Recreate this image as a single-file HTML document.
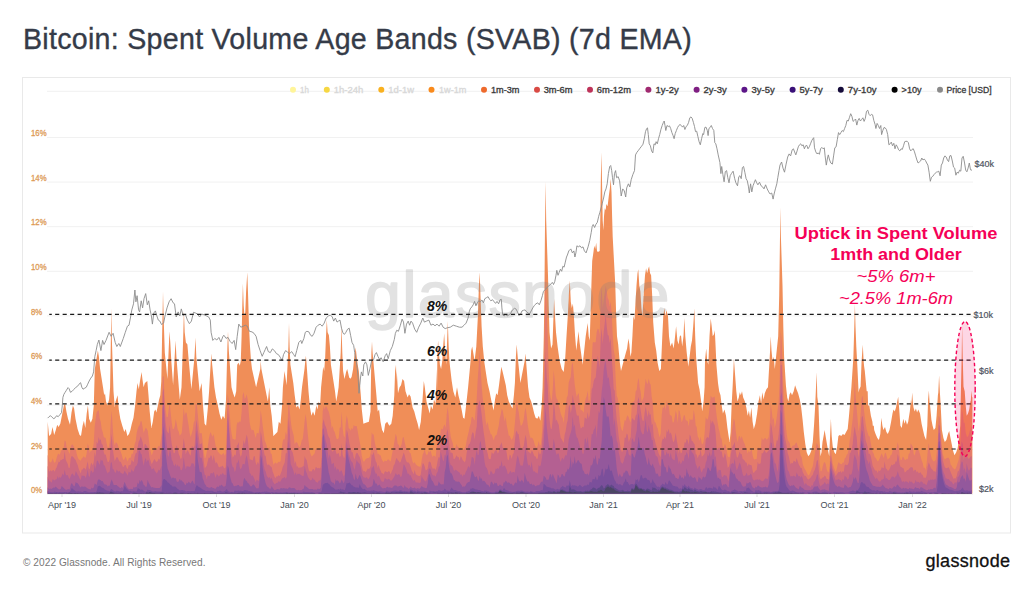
<!DOCTYPE html>
<html><head><meta charset="utf-8"><title>Bitcoin: Spent Volume Age Bands (SVAB) (7d EMA)</title>
<style>
html,body{margin:0;padding:0;background:#fff;}
body{width:1024px;height:590px;position:relative;overflow:hidden;font-family:"Liberation Sans",sans-serif;}
.title{position:absolute;left:23px;top:22.6px;font-size:28.6px;color:#353b48;white-space:nowrap;letter-spacing:0.28px;-webkit-text-stroke:0.35px #353b48;}
.foot{position:absolute;left:23px;top:557px;font-size:10.1px;color:#777;white-space:nowrap;letter-spacing:0.06px;}
.logo{position:absolute;left:925.5px;top:551px;font-size:18px;color:#111;white-space:nowrap;letter-spacing:0.3px;-webkit-text-stroke:0.3px #111;}
</style></head><body>
<div class="title">Bitcoin: Spent Volume Age Bands (SVAB) (7d EMA)</div>
<svg width="1024" height="590" viewBox="0 0 1024 590" style="position:absolute;left:0;top:0">
<rect x="22.5" y="77.5" width="988" height="455.5" fill="#fff" stroke="#e9e9e9" stroke-width="1"/>
<line x1="47" x2="973" y1="494.3" y2="494.3" stroke="#f1f1f1" stroke-width="1"/>
<line x1="47" x2="973" y1="449.7" y2="449.7" stroke="#f1f1f1" stroke-width="1"/>
<line x1="47" x2="973" y1="405.1" y2="405.1" stroke="#f1f1f1" stroke-width="1"/>
<line x1="47" x2="973" y1="360.5" y2="360.5" stroke="#f1f1f1" stroke-width="1"/>
<line x1="47" x2="973" y1="315.9" y2="315.9" stroke="#f1f1f1" stroke-width="1"/>
<line x1="47" x2="973" y1="271.3" y2="271.3" stroke="#f1f1f1" stroke-width="1"/>
<line x1="47" x2="973" y1="226.7" y2="226.7" stroke="#f1f1f1" stroke-width="1"/>
<line x1="47" x2="973" y1="182.1" y2="182.1" stroke="#f1f1f1" stroke-width="1"/>
<line x1="47" x2="973" y1="137.5" y2="137.5" stroke="#f1f1f1" stroke-width="1"/>
<line x1="47" x2="973" y1="91.3" y2="91.3" stroke="#f1f1f1" stroke-width="1"/>
<path d="M47.7,493.5 L47.7,421.8 L49.1,436.0 L51.1,434.0 L52.5,426.9 L54.2,435.0 L55.8,429.9 L57.2,424.8 L58.6,426.9 L60.3,423.8 L62.3,413.6 L63.9,405.5 L65.1,403.5 L66.4,411.6 L68.0,418.7 L70.0,424.8 L71.5,412.6 L72.9,405.5 L74.1,408.6 L75.5,418.7 L77.6,428.9 L79.6,435.0 L81.0,436.0 L82.6,425.8 L83.9,420.8 L85.3,427.9 L86.7,413.6 L87.9,405.5 L89.1,418.7 L90.8,422.8 L92.4,418.7 L93.8,405.5 L94.8,368.9 L96.5,358.7 L97.9,350.6 L98.9,356.7 L100.1,368.9 L103.0,387.2 L104.2,395.3 L105.0,393.3 L106.0,401.4 L107.4,405.5 L109.1,399.4 L110.1,387.2 L110.9,336.3 L111.3,308.3 L111.9,340.4 L113.5,391.3 L114.8,407.5 L115.6,401.4 L117.6,395.3 L118.8,409.6 L120.3,418.7 L122.3,425.8 L124.3,431.9 L125.7,428.9 L127.4,436.0 L129.0,434.0 L130.4,429.9 L131.8,423.8 L133.5,417.7 L135.1,405.5 L136.5,391.3 L137.5,383.1 L138.8,389.2 L140.0,381.1 L141.6,371.9 L142.4,379.1 L143.6,387.2 L144.9,383.1 L147.3,381.1 L148.5,395.3 L149.7,411.6 L151.4,427.9 L152.8,421.8 L154.2,411.6 L155.4,409.6 L156.4,412.6 L157.9,405.5 L159.1,399.4 L160.3,395.3 L161.3,381.1 L162.1,336.3 L163.0,291.6 L163.8,322.1 L164.8,352.6 L167.4,379.1 L168.8,346.5 L169.5,331.3 L170.3,342.4 L171.3,360.7 L173.1,385.2 L174.9,352.6 L175.6,340.4 L176.4,356.7 L179.8,399.4 L181.5,387.2 L183.1,340.4 L183.9,310.9 L184.7,332.3 L185.9,342.4 L187.4,344.5 L188.4,356.7 L191.4,389.2 L194.5,356.7 L195.5,337.4 L196.3,356.7 L199.6,391.3 L201.6,383.1 L203.0,405.5 L204.6,423.8 L206.1,425.8 L207.7,409.6 L209.1,391.3 L210.7,362.8 L211.3,353.6 L212.2,364.8 L214.4,387.2 L216.0,397.4 L217.9,405.5 L219.5,413.6 L221.3,419.7 L222.9,415.7 L224.6,418.7 L226.0,399.4 L227.4,346.5 L228.0,331.3 L228.8,350.6 L231.5,387.2 L233.1,393.3 L234.7,397.4 L236.2,391.3 L237.2,364.8 L238.6,362.8 L239.8,365.8 L240.8,360.7 L241.6,336.3 L242.3,305.8 L242.9,283.5 L243.7,305.8 L244.5,316.0 L245.3,311.9 L246.1,291.6 L247.3,272.3 L248.1,295.7 L249.0,326.2 L250.0,346.5 L251.0,360.7 L252.0,368.9 L256.1,387.2 L260.3,368.9 L260.7,360.7 L261.4,368.9 L266.6,395.3 L267.9,401.4 L269.3,387.2 L270.3,405.5 L271.7,415.7 L273.4,436.0 L275.4,434.0 L277.4,431.9 L278.8,421.8 L280.5,423.8 L282.1,405.5 L282.9,387.2 L284.5,370.9 L286.6,385.2 L288.4,346.5 L289.0,323.1 L289.6,346.5 L290.4,364.8 L293.3,383.1 L294.7,395.3 L296.3,407.5 L298.0,405.5 L299.6,409.6 L300.8,399.4 L302.0,387.2 L304.5,368.9 L305.3,360.7 L305.9,355.7 L306.5,362.8 L308.5,391.3 L310.0,407.5 L311.4,415.7 L313.0,411.6 L314.6,415.7 L316.3,405.5 L317.5,409.6 L318.7,401.4 L320.1,405.5 L321.1,387.2 L323.2,366.8 L324.2,370.9 L325.2,356.7 L326.0,336.3 L326.8,320.1 L327.6,332.3 L328.9,335.3 L329.9,346.5 L330.9,364.8 L335.0,391.3 L336.2,401.4 L337.4,395.3 L338.6,387.2 L340.7,352.6 L341.5,325.2 L342.3,352.6 L343.1,370.9 L344.5,379.1 L346.1,371.9 L347.2,368.9 L349.2,377.4 L350.4,378.7 L351.6,377.0 L353.1,368.9 L354.3,356.7 L355.7,347.5 L356.7,356.7 L357.7,364.8 L358.8,370.9 L360.8,395.3 L361.8,409.6 L363.4,423.8 L365.9,422.8 L368.9,421.8 L370.5,411.6 L371.4,352.6 L372.0,341.4 L372.6,352.6 L376.4,395.3 L377.7,411.6 L379.1,409.6 L380.5,421.8 L382.1,429.9 L383.8,433.0 L385.2,423.8 L387.2,421.8 L389.3,425.8 L391.3,423.8 L392.7,415.7 L394.3,395.3 L395.1,370.9 L396.0,364.8 L396.4,381.1 L396.8,370.9 L398.0,393.3 L399.6,387.2 L401.0,385.2 L402.5,379.1 L404.1,381.1 L405.5,391.3 L407.6,397.4 L409.0,394.3 L410.6,396.4 L412.6,407.5 L414.3,411.6 L415.9,417.7 L417.7,423.8 L419.1,429.9 L420.8,421.8 L422.4,401.4 L423.8,381.1 L424.8,387.2 L426.5,401.4 L428.1,407.5 L429.7,413.6 L430.9,405.5 L432.6,409.6 L434.0,399.4 L435.6,403.5 L436.6,368.9 L437.0,395.3 L437.4,352.6 L438.1,340.4 L438.9,352.6 L439.9,364.8 L441.1,368.9 L442.3,360.7 L443.3,344.5 L444.2,333.3 L445.0,348.5 L446.2,364.8 L447.0,344.5 L447.8,321.1 L448.6,344.5 L449.4,360.7 L450.3,368.9 L451.7,381.1 L453.3,391.3 L455.3,397.4 L457.0,387.2 L458.4,395.3 L460.0,401.4 L461.6,409.6 L463.1,417.7 L464.5,418.7 L466.1,405.5 L468.1,387.2 L470.6,360.7 L471.2,350.6 L472.2,346.5 L473.2,352.6 L474.6,360.7 L476.3,346.5 L477.9,316.0 L478.9,285.5 L479.7,272.3 L480.5,295.7 L481.6,326.2 L482.8,346.5 L484.4,362.8 L487.5,383.1 L489.5,391.3 L491.5,401.4 L493.6,410.6 L495.0,399.4 L496.2,393.3 L497.6,395.3 L499.0,385.2 L501.3,366.8 L502.7,371.9 L505.8,385.2 L507.2,395.3 L508.8,401.4 L510.8,405.5 L512.5,408.6 L513.9,395.3 L514.9,383.1 L515.9,356.7 L516.7,344.5 L517.7,356.7 L520.4,383.1 L524.7,360.7 L525.5,353.6 L526.5,366.8 L528.1,387.2 L529.5,397.4 L531.2,401.4 L532.8,407.5 L534.2,413.6 L535.6,417.7 L537.3,418.7 L538.9,415.7 L540.3,420.8 L541.7,405.5 L542.6,387.2 L543.8,336.3 L544.4,295.7 L545.0,226.5 L545.6,181.4 L546.2,220.4 L548.0,275.3 L548.7,305.8 L549.5,332.3 L551.1,348.5 L552.5,344.5 L553.5,316.0 L554.1,298.7 L555.0,316.0 L556.0,332.3 L557.6,346.5 L559.6,360.7 L561.7,368.9 L563.7,371.9 L565.3,356.7 L566.5,336.3 L567.8,316.0 L569.0,291.6 L569.8,280.4 L570.8,301.8 L571.8,307.9 L572.9,303.8 L573.9,316.0 L575.1,336.3 L576.3,350.6 L577.5,340.4 L578.5,331.3 L579.6,342.4 L581.0,352.6 L582.6,364.8 L584.0,352.6 L585.7,336.3 L586.9,328.2 L587.7,323.1 L588.7,336.3 L589.7,340.4 L590.5,316.0 L591.4,285.5 L592.2,261.1 L593.6,250.9 L594.2,245.8 L595.2,248.9 L596.2,242.8 L597.0,250.9 L597.9,252.1 L599.7,250.9 L600.3,216.3 L600.9,175.7 L601.5,152.3 L602.1,185.8 L602.7,220.4 L603.4,230.6 L604.0,216.3 L604.8,208.2 L605.6,210.2 L606.4,204.1 L607.6,206.2 L608.8,196.0 L609.9,187.9 L610.7,178.7 L611.5,191.9 L612.1,216.3 L612.7,236.7 L615.3,285.5 L616.2,316.0 L617.0,336.3 L618.2,344.5 L619.6,360.7 L621.0,370.9 L625.9,352.6 L627.1,348.5 L628.4,338.4 L629.4,344.5 L630.4,356.7 L631.4,352.6 L632.4,336.3 L633.4,316.0 L634.5,320.1 L635.3,305.8 L636.5,285.5 L637.5,273.3 L638.3,269.2 L639.3,285.5 L640.4,291.6 L641.4,307.9 L642.4,316.0 L643.6,295.7 L645.0,275.3 L646.1,268.2 L647.1,273.3 L648.1,269.2 L649.1,266.2 L650.1,273.3 L651.1,275.3 L652.2,295.7 L653.2,322.1 L654.8,342.4 L656.2,350.6 L657.6,362.8 L659.3,370.9 L660.9,368.9 L662.3,336.3 L663.3,316.0 L664.4,307.9 L665.4,316.0 L666.4,309.9 L667.4,314.0 L668.0,316.0 L669.0,336.3 L670.4,346.5 L672.1,342.4 L673.7,348.5 L675.1,336.3 L676.1,326.2 L677.4,340.4 L678.6,344.5 L679.8,336.3 L681.0,335.3 L682.2,346.5 L683.5,336.3 L684.3,318.0 L685.3,336.3 L686.7,352.6 L688.3,366.8 L689.6,356.7 L690.8,346.5 L692.0,340.4 L693.2,326.2 L694.4,308.3 L695.2,336.3 L696.1,356.7 L698.1,383.1 L699.5,389.2 L700.9,399.4 L702.2,411.6 L703.6,401.4 L704.6,387.2 L705.0,360.7 L706.2,348.5 L707.2,360.7 L708.3,364.8 L709.5,336.3 L710.7,318.4 L711.7,326.2 L712.7,336.3 L714.0,334.3 L714.8,330.2 L715.6,346.5 L716.4,364.8 L718.0,383.1 L719.2,391.3 L720.5,395.3 L721.7,405.5 L722.9,413.6 L724.5,409.6 L726.0,415.7 L727.4,427.9 L728.6,436.0 L729.6,442.1 L730.6,431.9 L731.6,405.5 L732.7,385.2 L733.9,358.7 L736.3,391.3 L737.5,401.4 L738.8,397.4 L739.8,392.3 L740.8,395.3 L742.0,391.3 L743.2,397.4 L744.9,401.4 L746.3,407.5 L747.7,415.7 L748.9,410.6 L750.1,417.7 L751.4,407.5 L752.6,421.8 L753.8,428.9 L755.4,423.8 L757.1,413.6 L758.5,401.4 L759.9,395.3 L761.1,403.5 L762.3,392.3 L763.6,399.4 L764.8,393.3 L766.4,389.2 L768.0,387.2 L770.1,350.6 L770.7,336.3 L771.5,350.6 L772.5,360.7 L773.7,356.7 L774.8,368.9 L778.2,336.3 L779.2,295.7 L780.0,236.7 L780.4,207.2 L780.9,236.7 L782.5,285.5 L783.3,326.2 L784.1,356.7 L785.9,385.2 L787.2,397.4 L788.4,401.4 L789.6,394.3 L790.8,392.3 L792.0,395.3 L793.7,391.3 L795.1,385.2 L796.5,389.2 L798.1,393.3 L799.8,399.4 L801.2,407.5 L802.6,419.7 L803.8,431.9 L805.3,444.1 L806.7,452.3 L808.3,456.3 L809.9,454.3 L811.4,450.2 L812.8,442.1 L814.0,425.8 L815.2,405.5 L816.0,387.2 L816.7,372.3 L817.3,396.7 L818.5,405.5 L819.5,436.0 L820.5,456.3 L821.5,452.3 L822.5,442.1 L823.6,436.0 L824.6,429.9 L825.6,436.0 L826.6,442.1 L828.0,450.2 L829.2,456.3 L830.1,436.0 L830.9,418.7 L831.7,436.0 L832.7,446.2 L834.3,452.3 L835.8,454.3 L837.2,446.2 L838.4,436.0 L839.8,435.0 L841.2,436.0 L842.9,434.0 L844.5,435.0 L846.1,431.9 L847.7,428.9 L849.0,415.7 L850.2,401.4 L851.4,387.2 L853.4,356.7 L854.3,326.2 L854.9,303.8 L855.5,326.2 L856.3,346.5 L857.5,368.9 L858.6,392.6 L859.3,389.2 L860.6,386.5 L861.6,360.7 L862.8,344.8 L863.6,360.7 L864.1,366.2 L864.8,370.9 L866.3,387.2 L866.7,391.3 L867.7,391.3 L868.1,405.5 L869.3,405.5 L870.9,415.7 L872.4,421.8 L872.8,425.8 L873.8,425.8 L874.2,429.9 L875.6,434.0 L877.3,438.0 L878.9,440.1 L880.3,434.0 L881.3,417.7 L882.4,425.8 L883.4,429.9 L885.0,426.9 L886.4,431.9 L887.8,434.0 L889.5,429.9 L891.1,421.8 L892.5,413.6 L893.5,409.6 L894.8,411.6 L896.0,407.5 L897.2,401.4 L898.2,396.7 L899.2,408.9 L900.4,425.8 L901.7,427.9 L903.3,418.7 L904.5,423.8 L905.7,419.7 L907.0,424.8 L908.2,421.8 L909.8,411.6 L911.0,399.4 L911.4,404.8 L912.2,392.6 L913.1,404.8 L913.5,407.5 L914.7,411.6 L915.9,408.6 L917.1,412.6 L918.3,409.6 L920.0,413.6 L921.6,423.8 L923.0,429.9 L924.4,436.0 L926.1,440.1 L927.3,425.8 L928.1,399.4 L928.9,390.6 L929.7,404.8 L930.1,405.5 L931.4,419.7 L932.6,425.8 L933.8,429.9 L935.4,427.9 L936.6,415.7 L937.9,395.3 L938.3,392.6 L939.1,375.3 L939.9,392.6 L940.7,405.5 L941.9,429.9 L943.4,438.0 L944.8,442.1 L946.4,440.1 L948.0,434.0 L949.2,430.9 L950.5,438.0 L951.7,444.1 L952.9,450.2 L954.5,455.3 L956.2,452.3 L957.6,448.2 L959.0,440.1 L960.2,425.8 L961.0,386.5 L961.7,356.0 L962.1,325.5 L962.7,356.0 L963.5,386.5 L964.7,391.3 L965.7,405.5 L966.7,415.7 L968.0,413.6 L969.2,409.6 L970.4,401.4 L970.8,400.7 L971.4,390.6 L972.0,396.7 L972.4,397.4 L972.4,493.5 Z" fill="#F08E58"/>
<path d="M47.7,493.5 L47.7,454.6 L48.7,459.4 L49.7,462.2 L50.7,462.4 L51.7,461.2 L52.7,458.3 L53.7,461.5 L54.7,462.9 L55.7,461.4 L56.7,457.5 L57.7,454.6 L58.7,453.5 L59.7,455.0 L60.7,451.8 L61.7,449.9 L62.7,449.4 L63.7,447.6 L64.7,440.3 L65.7,441.5 L66.7,447.5 L67.7,448.9 L68.7,451.9 L69.7,454.1 L70.7,446.7 L71.7,444.6 L72.7,444.6 L73.7,446.4 L74.7,449.1 L75.7,449.3 L76.7,453.7 L77.7,457.3 L78.7,459.2 L79.7,459.9 L80.7,460.8 L81.7,458.5 L82.7,457.7 L83.7,456.3 L84.7,457.4 L85.7,457.8 L86.7,453.3 L87.7,443.4 L88.7,446.4 L89.7,453.0 L90.7,451.1 L91.7,450.7 L92.7,449.3 L93.7,443.5 L94.7,426.2 L95.7,418.5 L96.7,412.1 L97.7,411.0 L98.7,410.1 L99.7,418.6 L100.7,421.8 L101.7,429.0 L102.7,431.9 L103.7,436.7 L104.7,437.7 L105.7,437.9 L106.7,443.7 L107.7,447.7 L108.7,447.4 L109.7,442.1 L110.7,422.1 L111.7,410.6 L112.7,427.3 L113.7,440.6 L114.7,445.5 L115.7,442.6 L116.7,442.7 L117.7,444.4 L118.7,447.7 L119.7,449.3 L120.7,451.7 L121.7,454.5 L122.7,458.2 L123.7,460.2 L124.7,458.6 L125.7,456.4 L126.7,459.5 L127.7,461.4 L128.7,458.4 L129.7,457.8 L130.7,457.8 L131.7,453.4 L132.7,454.0 L133.7,449.8 L134.7,444.1 L135.7,441.2 L136.7,432.7 L137.7,429.0 L138.7,426.2 L139.7,425.0 L140.7,421.1 L141.7,421.4 L142.7,428.1 L143.7,433.0 L144.7,430.1 L145.7,427.8 L146.7,428.8 L147.7,430.7 L148.7,438.3 L149.7,447.6 L150.7,451.7 L151.7,455.5 L152.7,452.8 L153.7,450.1 L154.7,446.7 L155.7,448.6 L156.7,449.8 L157.7,447.6 L158.7,445.7 L159.7,446.8 L160.7,440.2 L161.7,432.8 L162.7,377.3 L163.7,375.9 L164.7,400.3 L165.7,410.0 L166.7,417.1 L167.7,417.0 L168.7,409.8 L169.7,403.2 L170.7,412.8 L171.7,422.4 L172.7,428.9 L173.7,429.1 L174.7,426.3 L175.7,418.9 L176.7,423.8 L177.7,429.5 L178.7,431.6 L179.7,435.8 L180.7,434.5 L181.7,432.9 L182.7,421.8 L183.7,407.3 L184.7,415.8 L185.7,412.2 L186.7,413.0 L187.7,419.9 L188.7,426.0 L189.7,433.3 L190.7,436.9 L191.7,433.4 L192.7,430.0 L193.7,422.8 L194.7,420.5 L195.7,404.1 L196.7,404.1 L197.7,413.7 L198.7,423.7 L199.7,433.0 L200.7,433.3 L201.7,432.9 L202.7,441.7 L203.7,451.3 L204.7,458.0 L205.7,457.6 L206.7,451.9 L207.7,447.0 L208.7,439.6 L209.7,434.5 L210.7,432.1 L211.7,435.1 L212.7,436.8 L213.7,434.0 L214.7,440.4 L215.7,446.0 L216.7,447.6 L217.7,451.4 L218.7,452.5 L219.7,453.7 L220.7,454.4 L221.7,454.9 L222.7,453.8 L223.7,453.0 L224.7,455.7 L225.7,453.4 L226.7,430.6 L227.7,394.2 L228.7,400.3 L229.7,414.0 L230.7,427.3 L231.7,434.6 L232.7,439.2 L233.7,438.9 L234.7,439.8 L235.7,439.3 L236.7,425.1 L237.7,422.1 L238.7,422.8 L239.7,421.2 L240.7,421.8 L241.7,410.5 L242.7,395.1 L243.7,392.0 L244.7,399.0 L245.7,397.6 L246.7,394.3 L247.7,399.4 L248.7,411.6 L249.7,422.9 L250.7,427.8 L251.7,430.6 L252.7,429.7 L253.7,430.3 L254.7,434.6 L255.7,438.1 L256.7,433.2 L257.7,433.0 L258.7,433.6 L259.7,425.4 L260.7,410.1 L261.7,416.9 L262.7,425.7 L263.7,433.3 L264.7,440.5 L265.7,442.7 L266.7,446.0 L267.7,449.8 L268.7,448.0 L269.7,447.2 L270.7,453.5 L271.7,453.9 L272.7,461.0 L273.7,464.9 L274.7,463.0 L275.7,462.5 L276.7,463.7 L277.7,462.7 L278.7,461.7 L279.7,461.9 L280.7,460.9 L281.7,448.7 L282.7,441.3 L283.7,439.1 L284.7,439.4 L285.7,431.8 L286.7,435.2 L287.7,420.1 L288.7,398.7 L289.7,411.0 L290.7,420.8 L291.7,428.2 L292.7,431.7 L293.7,435.6 L294.7,444.2 L295.7,442.4 L296.7,442.0 L297.7,443.6 L298.7,446.2 L299.7,447.2 L300.7,444.9 L301.7,440.2 L302.7,439.2 L303.7,430.7 L304.7,420.2 L305.7,414.1 L306.7,422.0 L307.7,433.4 L308.7,442.3 L309.7,450.7 L310.7,454.6 L311.7,456.6 L312.7,455.4 L313.7,454.5 L314.7,453.3 L315.7,448.9 L316.7,449.3 L317.7,449.0 L318.7,448.1 L319.7,449.0 L320.7,448.9 L321.7,438.8 L322.7,411.3 L323.7,406.0 L324.7,409.6 L325.7,406.2 L326.7,406.7 L327.7,409.5 L328.7,411.4 L329.7,415.4 L330.7,420.4 L331.7,428.8 L332.7,425.8 L333.7,430.6 L334.7,432.1 L335.7,435.8 L336.7,438.9 L337.7,439.3 L338.7,438.0 L339.7,427.8 L340.7,427.3 L341.7,411.5 L342.7,428.6 L343.7,435.8 L344.7,437.5 L345.7,423.0 L346.7,415.5 L347.7,419.7 L348.7,427.9 L349.7,429.0 L350.7,430.7 L351.7,427.7 L352.7,429.5 L353.7,425.0 L354.7,426.2 L355.7,426.1 L356.7,426.1 L357.7,430.9 L358.7,436.7 L359.7,442.0 L360.7,447.3 L361.7,455.4 L362.7,459.7 L363.7,461.8 L364.7,461.1 L365.7,459.1 L366.7,458.4 L367.7,458.0 L368.7,458.1 L369.7,457.0 L370.7,452.0 L371.7,432.2 L372.7,434.6 L373.7,434.4 L374.7,441.8 L375.7,446.5 L376.7,448.2 L377.7,454.6 L378.7,453.6 L379.7,455.3 L380.7,455.6 L381.7,459.3 L382.7,461.1 L383.7,462.2 L384.7,460.5 L385.7,460.9 L386.7,461.0 L387.7,459.4 L388.7,459.6 L389.7,460.7 L390.7,461.4 L391.7,455.8 L392.7,450.7 L393.7,446.1 L394.7,439.2 L395.7,433.7 L396.7,436.7 L397.7,444.1 L398.7,444.8 L399.7,447.7 L400.7,446.6 L401.7,443.8 L402.7,437.8 L403.7,437.1 L404.7,442.2 L405.7,446.5 L406.7,449.6 L407.7,450.2 L408.7,450.0 L409.7,452.7 L410.7,453.3 L411.7,457.9 L412.7,461.9 L413.7,463.5 L414.7,461.9 L415.7,464.2 L416.7,465.2 L417.7,466.1 L418.7,466.6 L419.7,466.7 L420.7,466.3 L421.7,459.9 L422.7,454.4 L423.7,452.5 L424.7,448.7 L425.7,453.6 L426.7,455.3 L427.7,454.3 L428.7,450.7 L429.7,452.3 L430.7,450.6 L431.7,455.1 L432.7,457.0 L433.7,455.6 L434.7,455.9 L435.7,456.9 L436.7,446.4 L437.7,440.2 L438.7,434.8 L439.7,440.2 L440.7,430.1 L441.7,428.5 L442.7,429.6 L443.7,426.1 L444.7,424.6 L445.7,428.0 L446.7,414.5 L447.7,406.9 L448.7,415.4 L449.7,428.4 L450.7,436.4 L451.7,440.3 L452.7,442.9 L453.7,448.2 L454.7,448.1 L455.7,447.4 L456.7,444.0 L457.7,447.2 L458.7,446.9 L459.7,450.0 L460.7,447.1 L461.7,450.4 L462.7,450.0 L463.7,449.4 L464.7,448.3 L465.7,446.6 L466.7,440.2 L467.7,435.8 L468.7,431.7 L469.7,426.8 L470.7,423.6 L471.7,417.0 L472.7,417.1 L473.7,419.3 L474.7,420.4 L475.7,409.3 L476.7,398.7 L477.7,379.6 L478.7,365.8 L479.7,351.1 L480.7,370.3 L481.7,386.0 L482.7,398.1 L483.7,405.1 L484.7,410.5 L485.7,420.9 L486.7,425.7 L487.7,421.6 L488.7,428.1 L489.7,430.8 L490.7,434.2 L491.7,434.6 L492.7,437.5 L493.7,440.6 L494.7,436.9 L495.7,435.2 L496.7,434.8 L497.7,429.8 L498.7,425.8 L499.7,418.2 L500.7,414.4 L501.7,408.8 L502.7,410.5 L503.7,416.2 L504.7,421.5 L505.7,416.6 L506.7,425.1 L507.7,429.9 L508.7,435.5 L509.7,435.7 L510.7,438.2 L511.7,439.9 L512.7,437.9 L513.7,434.8 L514.7,424.8 L515.7,413.2 L516.7,399.4 L517.7,407.2 L518.7,411.9 L519.7,419.5 L520.7,425.8 L521.7,425.3 L522.7,423.2 L523.7,419.6 L524.7,411.3 L525.7,407.5 L526.7,415.3 L527.7,424.5 L528.7,430.4 L529.7,435.3 L530.7,438.2 L531.7,437.5 L532.7,438.5 L533.7,440.8 L534.7,444.5 L535.7,446.8 L536.7,447.7 L537.7,445.5 L538.7,441.1 L539.7,445.4 L540.7,444.8 L541.7,436.8 L542.7,418.3 L543.7,390.7 L544.7,325.0 L545.7,272.7 L546.7,310.8 L547.7,336.3 L548.7,369.9 L549.7,391.5 L550.7,398.2 L551.7,400.9 L552.7,390.0 L553.7,370.3 L554.7,380.1 L555.7,394.7 L556.7,398.7 L557.7,400.0 L558.7,405.5 L559.7,409.1 L560.7,413.4 L561.7,416.2 L562.7,418.1 L563.7,422.9 L564.7,414.0 L565.7,406.5 L566.7,397.7 L567.7,395.8 L568.7,382.6 L569.7,379.6 L570.7,377.0 L571.7,365.3 L572.7,361.9 L573.7,373.5 L574.7,384.6 L575.7,391.4 L576.7,396.8 L577.7,394.4 L578.7,393.0 L579.7,401.9 L580.7,410.4 L581.7,410.1 L582.7,411.2 L583.7,412.7 L584.7,403.1 L585.7,398.4 L586.7,396.0 L587.7,390.7 L588.7,401.5 L589.7,400.0 L590.7,383.3 L591.7,361.1 L592.7,342.7 L593.7,342.0 L594.7,342.5 L595.7,342.0 L596.7,331.8 L597.7,328.8 L598.7,329.5 L599.7,335.1 L600.7,298.3 L601.7,286.3 L602.7,308.1 L603.7,299.9 L604.7,293.1 L605.7,285.4 L606.7,291.3 L607.7,297.9 L608.7,300.1 L609.7,306.7 L610.7,301.6 L611.7,313.2 L612.7,334.4 L613.7,350.0 L614.7,355.6 L615.7,379.4 L616.7,395.7 L617.7,397.9 L618.7,404.9 L619.7,416.4 L620.7,426.6 L621.7,429.7 L622.7,431.3 L623.7,425.6 L624.7,419.8 L625.7,420.9 L626.7,417.0 L627.7,415.2 L628.7,417.4 L629.7,420.3 L630.7,422.2 L631.7,406.1 L632.7,401.6 L633.7,401.9 L634.7,400.2 L635.7,391.2 L636.7,390.0 L637.7,381.2 L638.7,377.9 L639.7,387.7 L640.7,391.9 L641.7,402.2 L642.7,399.2 L643.7,397.2 L644.7,386.9 L645.7,378.8 L646.7,382.7 L647.7,384.0 L648.7,378.4 L649.7,382.9 L650.7,384.7 L651.7,397.1 L652.7,402.2 L653.7,417.8 L654.7,422.1 L655.7,422.8 L656.7,426.5 L657.7,428.6 L658.7,434.1 L659.7,437.2 L660.7,433.6 L661.7,414.7 L662.7,407.1 L663.7,408.2 L664.7,405.0 L665.7,410.5 L666.7,400.4 L667.7,405.6 L668.7,405.5 L669.7,414.4 L670.7,415.4 L671.7,416.0 L672.7,422.4 L673.7,422.2 L674.7,417.3 L675.7,410.4 L676.7,414.1 L677.7,423.0 L678.7,409.9 L679.7,411.3 L680.7,417.3 L681.7,422.4 L682.7,419.6 L683.7,415.7 L684.7,415.1 L685.7,420.3 L686.7,420.6 L687.7,421.2 L688.7,426.4 L689.7,418.5 L690.7,420.1 L691.7,419.4 L692.7,419.7 L693.7,409.8 L694.7,415.1 L695.7,425.4 L696.7,426.9 L697.7,436.2 L698.7,438.1 L699.7,440.9 L700.7,436.6 L701.7,443.5 L702.7,444.2 L703.7,441.2 L704.7,432.1 L705.7,417.1 L706.7,419.3 L707.7,419.5 L708.7,414.9 L709.7,406.7 L710.7,395.6 L711.7,397.2 L712.7,397.8 L713.7,396.9 L714.7,396.4 L715.7,407.5 L716.7,416.5 L717.7,422.8 L718.7,428.4 L719.7,432.5 L720.7,437.7 L721.7,438.9 L722.7,446.5 L723.7,447.7 L724.7,444.0 L725.7,445.3 L726.7,450.4 L727.7,456.2 L728.7,457.3 L729.7,457.1 L730.7,447.8 L731.7,431.7 L732.7,425.5 L733.7,418.5 L734.7,420.8 L735.7,430.5 L736.7,438.2 L737.7,442.2 L738.7,436.7 L739.7,435.7 L740.7,439.1 L741.7,436.0 L742.7,439.3 L743.7,442.0 L744.7,443.9 L745.7,447.1 L746.7,449.7 L747.7,453.8 L748.7,450.5 L749.7,452.2 L750.7,450.7 L751.7,448.9 L752.7,455.4 L753.7,458.9 L754.7,459.4 L755.7,459.0 L756.7,458.7 L757.7,448.0 L758.7,447.6 L759.7,448.4 L760.7,449.1 L761.7,437.3 L762.7,439.7 L763.7,439.6 L764.7,438.0 L765.7,438.3 L766.7,439.7 L767.7,438.7 L768.7,436.9 L769.7,424.9 L770.7,404.2 L771.7,410.4 L772.7,420.1 L773.7,417.4 L774.7,428.1 L775.7,424.0 L776.7,417.4 L777.7,409.5 L778.7,401.8 L779.7,379.1 L780.7,331.2 L781.7,340.6 L782.7,369.4 L783.7,399.4 L784.7,415.7 L785.7,424.3 L786.7,433.8 L787.7,440.1 L788.7,441.5 L789.7,442.9 L790.7,448.3 L791.7,447.6 L792.7,445.6 L793.7,445.4 L794.7,444.9 L795.7,443.0 L796.7,442.4 L797.7,446.3 L798.7,448.0 L799.7,450.8 L800.7,455.9 L801.7,457.3 L802.7,464.1 L803.7,466.8 L804.7,468.8 L805.7,470.5 L806.7,472.5 L807.7,474.6 L808.7,475.4 L809.7,474.0 L810.7,471.4 L811.7,468.8 L812.7,466.6 L813.7,460.5 L814.7,454.7 L815.7,448.7 L816.7,442.7 L817.7,444.9 L818.7,447.6 L819.7,464.0 L820.7,471.6 L821.7,470.7 L822.7,466.5 L823.7,463.0 L824.7,462.0 L825.7,463.9 L826.7,469.3 L827.7,471.8 L828.7,472.5 L829.7,465.2 L830.7,447.6 L831.7,456.3 L832.7,463.7 L833.7,467.1 L834.7,469.5 L835.7,471.8 L836.7,469.1 L837.7,464.5 L838.7,462.1 L839.7,463.6 L840.7,464.0 L841.7,464.3 L842.7,462.6 L843.7,462.7 L844.7,458.5 L845.7,457.6 L846.7,454.8 L847.7,453.7 L848.7,448.9 L849.7,440.4 L850.7,435.7 L851.7,426.5 L852.7,419.2 L853.7,407.1 L854.7,379.6 L855.7,396.8 L856.7,408.6 L857.7,420.7 L858.7,431.8 L859.7,424.6 L860.7,412.3 L861.7,397.8 L862.7,395.7 L863.7,407.8 L864.7,416.6 L865.7,423.9 L866.7,429.5 L867.7,432.9 L868.7,436.1 L869.7,436.5 L870.7,442.7 L871.7,448.1 L872.7,451.9 L873.7,453.8 L874.7,457.2 L875.7,457.9 L876.7,459.8 L877.7,461.6 L878.7,460.6 L879.7,458.2 L880.7,455.6 L881.7,453.2 L882.7,455.8 L883.7,458.1 L884.7,453.7 L885.7,452.5 L886.7,456.2 L887.7,459.7 L888.7,458.6 L889.7,457.8 L890.7,454.9 L891.7,454.4 L892.7,449.9 L893.7,448.9 L894.7,450.3 L895.7,448.6 L896.7,447.7 L897.7,442.3 L898.7,446.7 L899.7,455.8 L900.7,459.9 L901.7,460.1 L902.7,456.4 L903.7,457.5 L904.7,459.8 L905.7,460.0 L906.7,458.8 L907.7,459.5 L908.7,453.7 L909.7,453.3 L910.7,443.2 L911.7,444.9 L912.7,446.8 L913.7,453.9 L914.7,455.6 L915.7,451.0 L916.7,446.9 L917.7,450.1 L918.7,450.2 L919.7,453.3 L920.7,456.7 L921.7,460.5 L922.7,463.1 L923.7,468.1 L924.7,467.6 L925.7,470.1 L926.7,463.3 L927.7,451.6 L928.7,442.9 L929.7,449.3 L930.7,454.4 L931.7,458.4 L932.7,460.3 L933.7,461.4 L934.7,461.1 L935.7,460.1 L936.7,452.8 L937.7,443.0 L938.7,415.7 L939.7,417.7 L940.7,431.8 L941.7,446.1 L942.7,453.3 L943.7,457.0 L944.7,459.4 L945.7,458.8 L946.7,457.9 L947.7,457.8 L948.7,457.7 L949.7,459.7 L950.7,464.7 L951.7,465.7 L952.7,467.7 L953.7,468.5 L954.7,469.6 L955.7,468.5 L956.7,465.7 L957.7,462.7 L958.7,459.7 L959.7,454.4 L960.7,437.2 L961.7,409.2 L962.7,413.0 L963.7,422.5 L964.7,423.1 L965.7,432.5 L966.7,436.3 L967.7,437.0 L968.7,435.1 L969.7,431.3 L970.7,428.4 L971.7,425.7 L971.7,493.5 Z" fill="#E47A6C"/>
<path d="M47.7,493.5 L47.7,465.6 L48.7,470.5 L49.7,471.7 L50.7,469.9 L51.7,471.6 L52.7,470.3 L53.7,470.1 L54.7,471.7 L55.7,468.9 L56.7,467.3 L57.7,464.3 L58.7,461.5 L59.7,462.2 L60.7,459.8 L61.7,460.1 L62.7,459.0 L63.7,459.1 L64.7,451.1 L65.7,459.5 L66.7,462.1 L67.7,463.8 L68.7,468.1 L69.7,467.7 L70.7,458.4 L71.7,455.9 L72.7,456.6 L73.7,457.4 L74.7,459.1 L75.7,460.0 L76.7,462.9 L77.7,465.0 L78.7,468.9 L79.7,470.9 L80.7,473.6 L81.7,469.6 L82.7,469.4 L83.7,467.7 L84.7,468.2 L85.7,469.7 L86.7,465.5 L87.7,461.3 L88.7,467.9 L89.7,469.4 L90.7,464.3 L91.7,462.7 L92.7,465.6 L93.7,462.2 L94.7,452.0 L95.7,456.9 L96.7,441.5 L97.7,443.9 L98.7,437.1 L99.7,440.7 L100.7,439.0 L101.7,444.3 L102.7,444.6 L103.7,452.1 L104.7,454.8 L105.7,454.5 L106.7,458.4 L107.7,461.9 L108.7,462.0 L109.7,459.6 L110.7,443.0 L111.7,434.1 L112.7,448.3 L113.7,455.3 L114.7,461.3 L115.7,459.1 L116.7,457.0 L117.7,457.4 L118.7,460.1 L119.7,461.7 L120.7,461.7 L121.7,463.9 L122.7,466.5 L123.7,466.9 L124.7,465.0 L125.7,465.1 L126.7,467.7 L127.7,469.2 L128.7,465.0 L129.7,465.2 L130.7,464.4 L131.7,459.7 L132.7,461.3 L133.7,462.3 L134.7,456.4 L135.7,453.3 L136.7,452.7 L137.7,447.6 L138.7,441.4 L139.7,440.0 L140.7,436.2 L141.7,439.2 L142.7,442.4 L143.7,449.9 L144.7,444.1 L145.7,444.2 L146.7,445.9 L147.7,447.3 L148.7,451.7 L149.7,458.5 L150.7,461.1 L151.7,464.4 L152.7,462.3 L153.7,460.2 L154.7,459.0 L155.7,461.3 L156.7,462.0 L157.7,461.1 L158.7,458.4 L159.7,460.1 L160.7,454.0 L161.7,448.4 L162.7,392.2 L163.7,387.9 L164.7,410.6 L165.7,423.4 L166.7,430.6 L167.7,432.4 L168.7,433.6 L169.7,425.3 L170.7,435.2 L171.7,443.9 L172.7,448.2 L173.7,453.2 L174.7,452.9 L175.7,448.2 L176.7,445.3 L177.7,448.3 L178.7,453.9 L179.7,455.9 L180.7,459.2 L181.7,457.7 L182.7,448.1 L183.7,438.2 L184.7,444.8 L185.7,454.5 L186.7,451.3 L187.7,450.3 L188.7,452.3 L189.7,454.5 L190.7,455.8 L191.7,446.5 L192.7,446.6 L193.7,447.8 L194.7,445.2 L195.7,427.1 L196.7,419.5 L197.7,429.9 L198.7,436.6 L199.7,444.6 L200.7,443.9 L201.7,443.0 L202.7,450.5 L203.7,460.9 L204.7,467.9 L205.7,467.3 L206.7,465.8 L207.7,461.3 L208.7,457.4 L209.7,457.9 L210.7,455.2 L211.7,456.0 L212.7,460.8 L213.7,454.7 L214.7,459.9 L215.7,463.5 L216.7,462.0 L217.7,464.2 L218.7,466.9 L219.7,467.3 L220.7,466.6 L221.7,466.6 L222.7,465.4 L223.7,467.4 L224.7,468.5 L225.7,467.1 L226.7,445.6 L227.7,407.7 L228.7,418.1 L229.7,433.9 L230.7,445.4 L231.7,453.6 L232.7,457.8 L233.7,456.2 L234.7,454.6 L235.7,455.8 L236.7,445.7 L237.7,444.8 L238.7,442.1 L239.7,453.6 L240.7,456.9 L241.7,454.8 L242.7,446.8 L243.7,440.1 L244.7,444.2 L245.7,439.2 L246.7,434.6 L247.7,438.8 L248.7,448.0 L249.7,459.3 L250.7,459.4 L251.7,460.1 L252.7,460.5 L253.7,456.4 L254.7,455.9 L255.7,462.7 L256.7,465.3 L257.7,461.8 L258.7,464.0 L259.7,452.6 L260.7,431.3 L261.7,436.5 L262.7,445.2 L263.7,450.6 L264.7,455.5 L265.7,456.0 L266.7,463.6 L267.7,465.3 L268.7,464.3 L269.7,465.4 L270.7,466.6 L271.7,467.3 L272.7,471.8 L273.7,474.3 L274.7,477.3 L275.7,477.9 L276.7,476.0 L277.7,476.5 L278.7,475.0 L279.7,476.3 L280.7,473.6 L281.7,470.9 L282.7,467.1 L283.7,464.8 L284.7,462.6 L285.7,453.3 L286.7,453.2 L287.7,437.7 L288.7,418.0 L289.7,429.5 L290.7,449.4 L291.7,450.7 L292.7,452.6 L293.7,457.0 L294.7,463.7 L295.7,461.0 L296.7,466.7 L297.7,466.3 L298.7,468.0 L299.7,467.6 L300.7,467.6 L301.7,467.3 L302.7,466.6 L303.7,465.9 L304.7,456.0 L305.7,459.1 L306.7,460.0 L307.7,465.2 L308.7,470.1 L309.7,471.6 L310.7,471.3 L311.7,471.4 L312.7,469.2 L313.7,468.9 L314.7,471.0 L315.7,466.9 L316.7,467.5 L317.7,468.4 L318.7,467.7 L319.7,468.6 L320.7,467.3 L321.7,456.7 L322.7,423.5 L323.7,419.2 L324.7,424.3 L325.7,426.6 L326.7,429.2 L327.7,434.4 L328.7,436.9 L329.7,438.3 L330.7,445.2 L331.7,450.9 L332.7,451.7 L333.7,450.5 L334.7,448.8 L335.7,450.8 L336.7,454.2 L337.7,453.5 L338.7,453.1 L339.7,456.9 L340.7,455.9 L341.7,443.3 L342.7,454.7 L343.7,457.8 L344.7,457.4 L345.7,441.1 L346.7,429.4 L347.7,432.8 L348.7,439.0 L349.7,445.0 L350.7,448.6 L351.7,452.3 L352.7,452.3 L353.7,457.4 L354.7,459.2 L355.7,454.6 L356.7,452.7 L357.7,453.2 L358.7,455.4 L359.7,457.1 L360.7,460.3 L361.7,465.8 L362.7,470.1 L363.7,471.5 L364.7,471.0 L365.7,472.3 L366.7,470.4 L367.7,468.5 L368.7,469.0 L369.7,468.3 L370.7,465.9 L371.7,454.0 L372.7,455.0 L373.7,451.7 L374.7,457.1 L375.7,461.2 L376.7,462.9 L377.7,467.9 L378.7,464.7 L379.7,468.7 L380.7,470.7 L381.7,473.2 L382.7,473.2 L383.7,474.5 L384.7,471.8 L385.7,471.3 L386.7,472.1 L387.7,472.2 L388.7,471.0 L389.7,471.8 L390.7,474.4 L391.7,471.2 L392.7,469.4 L393.7,465.4 L394.7,464.0 L395.7,460.2 L396.7,457.7 L397.7,460.2 L398.7,460.8 L399.7,462.8 L400.7,461.7 L401.7,458.5 L402.7,455.8 L403.7,452.5 L404.7,455.3 L405.7,459.4 L406.7,462.1 L407.7,462.4 L408.7,462.6 L409.7,464.3 L410.7,467.1 L411.7,470.4 L412.7,472.3 L413.7,474.3 L414.7,469.8 L415.7,474.1 L416.7,475.1 L417.7,475.6 L418.7,476.1 L419.7,476.1 L420.7,474.8 L421.7,468.0 L422.7,463.3 L423.7,463.8 L424.7,466.6 L425.7,470.6 L426.7,470.0 L427.7,468.6 L428.7,462.0 L429.7,461.5 L430.7,462.4 L431.7,466.5 L432.7,468.8 L433.7,468.6 L434.7,468.5 L435.7,470.1 L436.7,465.9 L437.7,460.4 L438.7,457.0 L439.7,457.8 L440.7,442.9 L441.7,442.0 L442.7,444.6 L443.7,445.7 L444.7,440.6 L445.7,443.1 L446.7,432.4 L447.7,428.9 L448.7,438.4 L449.7,448.3 L450.7,453.0 L451.7,452.4 L452.7,453.4 L453.7,459.2 L454.7,458.7 L455.7,456.9 L456.7,455.3 L457.7,457.2 L458.7,457.0 L459.7,460.7 L460.7,456.1 L461.7,457.6 L462.7,460.2 L463.7,461.1 L464.7,462.5 L465.7,460.3 L466.7,452.7 L467.7,447.7 L468.7,444.6 L469.7,443.8 L470.7,441.1 L471.7,434.6 L472.7,431.9 L473.7,433.6 L474.7,439.8 L475.7,431.6 L476.7,427.0 L477.7,406.7 L478.7,403.4 L479.7,400.0 L480.7,407.4 L481.7,415.0 L482.7,424.3 L483.7,432.8 L484.7,438.8 L485.7,446.5 L486.7,449.9 L487.7,453.5 L488.7,458.6 L489.7,459.2 L490.7,458.9 L491.7,452.1 L492.7,453.5 L493.7,453.7 L494.7,451.2 L495.7,450.3 L496.7,450.2 L497.7,453.6 L498.7,452.2 L499.7,446.2 L500.7,444.6 L501.7,442.2 L502.7,447.8 L503.7,448.3 L504.7,448.5 L505.7,448.1 L506.7,453.1 L507.7,459.6 L508.7,460.3 L509.7,454.6 L510.7,455.4 L511.7,459.1 L512.7,454.6 L513.7,453.1 L514.7,442.5 L515.7,432.8 L516.7,430.4 L517.7,433.7 L518.7,434.3 L519.7,441.4 L520.7,448.7 L521.7,450.1 L522.7,448.1 L523.7,446.2 L524.7,438.9 L525.7,434.8 L526.7,440.7 L527.7,451.2 L528.7,451.8 L529.7,452.8 L530.7,453.8 L531.7,450.6 L532.7,451.8 L533.7,454.5 L534.7,456.5 L535.7,456.5 L536.7,459.0 L537.7,458.5 L538.7,451.1 L539.7,454.4 L540.7,453.6 L541.7,447.5 L542.7,434.2 L543.7,424.2 L544.7,383.1 L545.7,351.2 L546.7,376.7 L547.7,386.0 L548.7,407.5 L549.7,421.6 L550.7,428.5 L551.7,429.0 L552.7,419.4 L553.7,402.0 L554.7,409.0 L555.7,421.1 L556.7,419.6 L557.7,422.4 L558.7,424.4 L559.7,432.2 L560.7,438.1 L561.7,439.3 L562.7,441.2 L563.7,442.9 L564.7,434.5 L565.7,431.0 L566.7,424.1 L567.7,420.2 L568.7,406.9 L569.7,404.8 L570.7,413.3 L571.7,408.5 L572.7,394.4 L573.7,401.3 L574.7,404.8 L575.7,409.4 L576.7,415.2 L577.7,415.7 L578.7,415.6 L579.7,423.5 L580.7,428.4 L581.7,427.9 L582.7,426.4 L583.7,427.5 L584.7,417.4 L585.7,418.3 L586.7,419.0 L587.7,412.0 L588.7,418.5 L589.7,414.9 L590.7,405.3 L591.7,389.3 L592.7,387.5 L593.7,381.2 L594.7,378.5 L595.7,377.6 L596.7,366.2 L597.7,356.0 L598.7,360.5 L599.7,367.7 L600.7,338.2 L601.7,328.3 L602.7,344.3 L603.7,332.0 L604.7,323.3 L605.7,314.4 L606.7,326.3 L607.7,334.7 L608.7,335.7 L609.7,342.9 L610.7,338.2 L611.7,357.2 L612.7,370.4 L613.7,389.1 L614.7,390.8 L615.7,407.4 L616.7,420.1 L617.7,426.9 L618.7,436.4 L619.7,442.2 L620.7,448.4 L621.7,451.7 L622.7,451.4 L623.7,447.7 L624.7,437.4 L625.7,438.0 L626.7,433.5 L627.7,434.7 L628.7,441.9 L629.7,439.4 L630.7,436.9 L631.7,419.6 L632.7,418.1 L633.7,420.1 L634.7,420.5 L635.7,415.5 L636.7,414.2 L637.7,400.8 L638.7,397.0 L639.7,404.7 L640.7,410.6 L641.7,417.2 L642.7,420.9 L643.7,420.8 L644.7,412.1 L645.7,406.4 L646.7,412.0 L647.7,417.2 L648.7,410.0 L649.7,415.3 L650.7,414.1 L651.7,425.2 L652.7,423.4 L653.7,436.9 L654.7,439.5 L655.7,444.3 L656.7,447.0 L657.7,449.9 L658.7,453.5 L659.7,455.8 L660.7,457.1 L661.7,442.3 L662.7,438.6 L663.7,439.3 L664.7,436.2 L665.7,439.2 L666.7,430.1 L667.7,432.4 L668.7,428.7 L669.7,434.3 L670.7,432.3 L671.7,435.2 L672.7,440.5 L673.7,442.5 L674.7,438.9 L675.7,432.5 L676.7,439.7 L677.7,445.2 L678.7,454.0 L679.7,448.5 L680.7,453.6 L681.7,452.8 L682.7,448.7 L683.7,447.8 L684.7,442.1 L685.7,443.0 L686.7,438.7 L687.7,440.3 L688.7,445.0 L689.7,434.6 L690.7,436.2 L691.7,441.0 L692.7,441.2 L693.7,443.3 L694.7,444.6 L695.7,454.2 L696.7,454.8 L697.7,458.4 L698.7,455.3 L699.7,454.7 L700.7,448.9 L701.7,456.8 L702.7,455.9 L703.7,454.7 L704.7,453.0 L705.7,439.6 L706.7,437.8 L707.7,436.9 L708.7,438.2 L709.7,431.0 L710.7,419.3 L711.7,423.7 L712.7,420.5 L713.7,423.6 L714.7,425.3 L715.7,433.8 L716.7,450.0 L717.7,448.7 L718.7,447.7 L719.7,448.0 L720.7,451.7 L721.7,451.3 L722.7,457.2 L723.7,457.8 L724.7,453.1 L725.7,455.0 L726.7,460.9 L727.7,467.8 L728.7,466.9 L729.7,463.8 L730.7,454.8 L731.7,449.5 L732.7,446.0 L733.7,444.5 L734.7,441.8 L735.7,451.1 L736.7,456.7 L737.7,457.8 L738.7,454.4 L739.7,451.6 L740.7,454.2 L741.7,453.9 L742.7,459.2 L743.7,459.5 L744.7,460.8 L745.7,462.4 L746.7,462.7 L747.7,466.6 L748.7,463.6 L749.7,465.1 L750.7,465.0 L751.7,465.6 L752.7,471.2 L753.7,473.2 L754.7,471.8 L755.7,470.6 L756.7,469.9 L757.7,461.8 L758.7,464.2 L759.7,463.8 L760.7,463.2 L761.7,452.9 L762.7,453.4 L763.7,451.6 L764.7,450.1 L765.7,452.5 L766.7,452.8 L767.7,451.4 L768.7,450.4 L769.7,443.5 L770.7,423.1 L771.7,426.7 L772.7,434.7 L773.7,443.6 L774.7,448.7 L775.7,446.8 L776.7,440.3 L777.7,440.8 L778.7,434.6 L779.7,421.7 L780.7,365.2 L781.7,364.7 L782.7,397.2 L783.7,421.3 L784.7,435.9 L785.7,441.2 L786.7,446.4 L787.7,453.3 L788.7,456.1 L789.7,460.7 L790.7,464.4 L791.7,462.8 L792.7,463.5 L793.7,460.7 L794.7,461.3 L795.7,462.3 L796.7,458.1 L797.7,461.3 L798.7,464.2 L799.7,465.9 L800.7,468.1 L801.7,468.0 L802.7,471.9 L803.7,473.9 L804.7,475.9 L805.7,475.7 L806.7,477.4 L807.7,479.3 L808.7,479.4 L809.7,478.4 L810.7,477.4 L811.7,476.0 L812.7,475.1 L813.7,471.7 L814.7,470.0 L815.7,466.4 L816.7,460.9 L817.7,459.8 L818.7,468.9 L819.7,477.4 L820.7,479.4 L821.7,478.4 L822.7,477.4 L823.7,477.3 L824.7,475.4 L825.7,476.5 L826.7,478.9 L827.7,479.1 L828.7,479.9 L829.7,471.7 L830.7,455.0 L831.7,461.8 L832.7,468.7 L833.7,471.3 L834.7,473.6 L835.7,476.2 L836.7,474.5 L837.7,473.1 L838.7,471.8 L839.7,472.2 L840.7,470.9 L841.7,472.9 L842.7,471.0 L843.7,472.0 L844.7,465.2 L845.7,464.5 L846.7,465.3 L847.7,464.8 L848.7,462.8 L849.7,453.2 L850.7,452.4 L851.7,449.4 L852.7,444.0 L853.7,432.8 L854.7,426.3 L855.7,432.8 L856.7,436.9 L857.7,451.3 L858.7,457.5 L859.7,446.6 L860.7,428.9 L861.7,417.6 L862.7,415.7 L863.7,425.2 L864.7,433.0 L865.7,440.8 L866.7,443.4 L867.7,447.3 L868.7,454.2 L869.7,453.4 L870.7,456.0 L871.7,460.5 L872.7,466.1 L873.7,467.8 L874.7,469.7 L875.7,470.8 L876.7,470.5 L877.7,472.9 L878.7,470.1 L879.7,471.3 L880.7,469.9 L881.7,467.3 L882.7,467.7 L883.7,468.2 L884.7,461.2 L885.7,468.2 L886.7,469.0 L887.7,470.7 L888.7,470.6 L889.7,468.8 L890.7,466.3 L891.7,464.6 L892.7,465.4 L893.7,464.1 L894.7,464.3 L895.7,461.3 L896.7,461.8 L897.7,453.9 L898.7,457.5 L899.7,464.8 L900.7,467.0 L901.7,467.2 L902.7,467.9 L903.7,468.4 L904.7,472.6 L905.7,471.9 L906.7,470.6 L907.7,470.0 L908.7,469.6 L909.7,468.0 L910.7,467.2 L911.7,467.2 L912.7,467.5 L913.7,471.4 L914.7,469.8 L915.7,469.9 L916.7,472.4 L917.7,471.3 L918.7,473.4 L919.7,472.8 L920.7,472.3 L921.7,474.5 L922.7,475.1 L923.7,478.0 L924.7,477.5 L925.7,478.1 L926.7,474.9 L927.7,466.6 L928.7,462.5 L929.7,464.6 L930.7,467.4 L931.7,469.0 L932.7,469.7 L933.7,471.5 L934.7,471.2 L935.7,472.0 L936.7,463.1 L937.7,455.3 L938.7,424.4 L939.7,426.0 L940.7,439.6 L941.7,451.5 L942.7,460.0 L943.7,463.4 L944.7,467.1 L945.7,467.9 L946.7,468.2 L947.7,467.7 L948.7,467.2 L949.7,469.5 L950.7,472.2 L951.7,474.6 L952.7,476.9 L953.7,479.0 L954.7,478.2 L955.7,478.5 L956.7,475.9 L957.7,471.5 L958.7,470.9 L959.7,467.9 L960.7,455.5 L961.7,441.6 L962.7,444.2 L963.7,460.8 L964.7,454.1 L965.7,458.5 L966.7,454.0 L967.7,457.4 L968.7,458.9 L969.7,458.0 L970.7,456.5 L971.7,455.9 L971.7,493.5 Z" fill="#CD6980"/>
<path d="M47.7,493.5 L47.7,476.5 L48.7,480.0 L49.7,481.4 L50.7,481.6 L51.7,482.8 L52.7,479.0 L53.7,479.9 L54.7,480.6 L55.7,479.2 L56.7,479.2 L57.7,475.9 L58.7,478.7 L59.7,476.8 L60.7,478.1 L61.7,475.9 L62.7,473.4 L63.7,475.4 L64.7,469.6 L65.7,474.4 L66.7,475.4 L67.7,475.1 L68.7,477.7 L69.7,479.0 L70.7,476.1 L71.7,473.9 L72.7,473.5 L73.7,475.6 L74.7,475.7 L75.7,471.2 L76.7,472.6 L77.7,474.7 L78.7,476.3 L79.7,478.7 L80.7,479.9 L81.7,475.4 L82.7,475.7 L83.7,475.7 L84.7,476.0 L85.7,478.1 L86.7,474.6 L87.7,469.4 L88.7,475.9 L89.7,477.1 L90.7,470.7 L91.7,470.8 L92.7,473.1 L93.7,471.4 L94.7,464.6 L95.7,469.1 L96.7,461.4 L97.7,460.5 L98.7,462.9 L99.7,465.1 L100.7,459.6 L101.7,460.8 L102.7,460.3 L103.7,465.2 L104.7,465.5 L105.7,468.6 L106.7,471.6 L107.7,473.5 L108.7,472.0 L109.7,471.5 L110.7,463.1 L111.7,462.1 L112.7,468.9 L113.7,469.4 L114.7,472.1 L115.7,472.9 L116.7,469.5 L117.7,471.1 L118.7,471.7 L119.7,470.8 L120.7,472.9 L121.7,473.2 L122.7,474.1 L123.7,473.3 L124.7,470.5 L125.7,472.6 L126.7,473.8 L127.7,475.7 L128.7,471.6 L129.7,472.6 L130.7,472.6 L131.7,468.9 L132.7,471.4 L133.7,471.6 L134.7,468.2 L135.7,466.1 L136.7,465.6 L137.7,462.8 L138.7,451.3 L139.7,450.2 L140.7,453.5 L141.7,454.5 L142.7,460.7 L143.7,465.8 L144.7,460.2 L145.7,457.8 L146.7,462.2 L147.7,459.8 L148.7,460.5 L149.7,465.6 L150.7,466.4 L151.7,469.6 L152.7,469.1 L153.7,467.9 L154.7,470.7 L155.7,472.0 L156.7,473.5 L157.7,471.9 L158.7,469.4 L159.7,470.7 L160.7,467.9 L161.7,465.4 L162.7,408.4 L163.7,402.6 L164.7,423.4 L165.7,435.5 L166.7,444.5 L167.7,454.5 L168.7,456.9 L169.7,449.8 L170.7,452.4 L171.7,459.7 L172.7,461.2 L173.7,464.9 L174.7,466.0 L175.7,463.4 L176.7,466.9 L177.7,464.5 L178.7,466.8 L179.7,466.2 L180.7,470.0 L181.7,470.2 L182.7,467.3 L183.7,457.0 L184.7,464.1 L185.7,469.5 L186.7,466.0 L187.7,466.5 L188.7,466.6 L189.7,467.0 L190.7,466.0 L191.7,462.9 L192.7,463.5 L193.7,463.5 L194.7,467.4 L195.7,443.0 L196.7,430.4 L197.7,441.7 L198.7,448.5 L199.7,456.8 L200.7,457.9 L201.7,457.8 L202.7,462.7 L203.7,469.6 L204.7,474.7 L205.7,475.2 L206.7,479.4 L207.7,475.4 L208.7,476.0 L209.7,476.0 L210.7,472.9 L211.7,473.2 L212.7,473.6 L213.7,471.7 L214.7,475.2 L215.7,478.0 L216.7,474.1 L217.7,474.9 L218.7,476.6 L219.7,475.6 L220.7,474.1 L221.7,474.8 L222.7,472.7 L223.7,474.3 L224.7,474.9 L225.7,474.8 L226.7,456.7 L227.7,417.3 L228.7,425.7 L229.7,441.9 L230.7,454.2 L231.7,463.8 L232.7,467.0 L233.7,467.4 L234.7,471.9 L235.7,470.3 L236.7,462.8 L237.7,462.8 L238.7,459.2 L239.7,467.2 L240.7,469.6 L241.7,467.5 L242.7,464.1 L243.7,464.0 L244.7,464.4 L245.7,458.3 L246.7,455.1 L247.7,460.2 L248.7,466.7 L249.7,472.9 L250.7,474.1 L251.7,476.1 L252.7,475.2 L253.7,477.4 L254.7,479.8 L255.7,482.2 L256.7,479.5 L257.7,480.4 L258.7,481.3 L259.7,470.1 L260.7,446.2 L261.7,449.0 L262.7,457.0 L263.7,465.3 L264.7,469.8 L265.7,471.4 L266.7,475.5 L267.7,477.2 L268.7,478.0 L269.7,477.1 L270.7,479.4 L271.7,477.4 L272.7,481.2 L273.7,482.9 L274.7,484.3 L275.7,483.5 L276.7,482.7 L277.7,482.7 L278.7,481.1 L279.7,482.0 L280.7,481.2 L281.7,478.9 L282.7,478.1 L283.7,477.8 L284.7,477.1 L285.7,478.7 L286.7,477.0 L287.7,457.6 L288.7,440.3 L289.7,451.5 L290.7,464.0 L291.7,466.6 L292.7,468.5 L293.7,472.0 L294.7,475.1 L295.7,471.9 L296.7,475.2 L297.7,473.5 L298.7,474.1 L299.7,473.7 L300.7,474.9 L301.7,475.6 L302.7,476.1 L303.7,475.8 L304.7,465.8 L305.7,470.4 L306.7,472.9 L307.7,476.2 L308.7,478.3 L309.7,479.5 L310.7,480.6 L311.7,480.1 L312.7,477.5 L313.7,479.7 L314.7,479.8 L315.7,481.7 L316.7,482.3 L317.7,482.8 L318.7,480.7 L319.7,480.6 L320.7,479.8 L321.7,468.0 L322.7,429.6 L323.7,427.9 L324.7,435.8 L325.7,440.8 L326.7,444.2 L327.7,451.9 L328.7,458.8 L329.7,454.2 L330.7,458.3 L331.7,464.2 L332.7,463.4 L333.7,462.8 L334.7,469.0 L335.7,466.3 L336.7,470.5 L337.7,468.6 L338.7,469.7 L339.7,472.5 L340.7,470.8 L341.7,470.4 L342.7,474.0 L343.7,476.6 L344.7,474.6 L345.7,458.1 L346.7,441.5 L347.7,449.2 L348.7,453.9 L349.7,457.0 L350.7,460.2 L351.7,461.8 L352.7,462.7 L353.7,467.6 L354.7,469.8 L355.7,464.3 L356.7,460.1 L357.7,462.0 L358.7,463.0 L359.7,464.0 L360.7,467.3 L361.7,472.3 L362.7,475.9 L363.7,477.6 L364.7,477.6 L365.7,478.0 L366.7,476.9 L367.7,478.8 L368.7,479.1 L369.7,476.9 L370.7,474.4 L371.7,467.8 L372.7,467.5 L373.7,465.6 L374.7,470.9 L375.7,473.8 L376.7,473.5 L377.7,477.0 L378.7,475.5 L379.7,477.2 L380.7,480.1 L381.7,481.5 L382.7,481.7 L383.7,481.8 L384.7,478.3 L385.7,478.5 L386.7,479.5 L387.7,479.4 L388.7,478.7 L389.7,479.5 L390.7,480.7 L391.7,480.5 L392.7,479.0 L393.7,477.5 L394.7,475.8 L395.7,473.0 L396.7,474.7 L397.7,475.0 L398.7,474.0 L399.7,474.8 L400.7,477.2 L401.7,476.0 L402.7,469.9 L403.7,464.3 L404.7,465.6 L405.7,467.7 L406.7,470.2 L407.7,474.1 L408.7,473.6 L409.7,475.6 L410.7,475.2 L411.7,478.1 L412.7,479.8 L413.7,480.9 L414.7,479.8 L415.7,482.5 L416.7,482.5 L417.7,482.5 L418.7,482.7 L419.7,483.0 L420.7,482.2 L421.7,475.6 L422.7,478.2 L423.7,479.5 L424.7,481.0 L425.7,481.5 L426.7,480.0 L427.7,475.9 L428.7,469.3 L429.7,468.3 L430.7,469.4 L431.7,473.2 L432.7,475.3 L433.7,475.4 L434.7,475.4 L435.7,476.8 L436.7,473.2 L437.7,471.7 L438.7,466.9 L439.7,465.9 L440.7,451.6 L441.7,455.8 L442.7,459.8 L443.7,461.6 L444.7,454.9 L445.7,455.6 L446.7,447.6 L447.7,446.1 L448.7,453.0 L449.7,462.0 L450.7,465.1 L451.7,465.6 L452.7,466.7 L453.7,470.3 L454.7,470.8 L455.7,469.4 L456.7,470.4 L457.7,471.2 L458.7,471.9 L459.7,472.8 L460.7,474.9 L461.7,474.2 L462.7,476.8 L463.7,474.2 L464.7,474.9 L465.7,471.9 L466.7,470.3 L467.7,467.4 L468.7,466.1 L469.7,468.1 L470.7,464.2 L471.7,456.9 L472.7,457.2 L473.7,458.3 L474.7,464.7 L475.7,456.1 L476.7,449.7 L477.7,455.0 L478.7,454.7 L479.7,443.5 L480.7,440.8 L481.7,450.0 L482.7,449.3 L483.7,455.0 L484.7,462.7 L485.7,467.0 L486.7,468.0 L487.7,470.6 L488.7,474.7 L489.7,474.7 L490.7,470.7 L491.7,471.7 L492.7,473.8 L493.7,473.9 L494.7,472.9 L495.7,468.5 L496.7,469.0 L497.7,468.1 L498.7,468.9 L499.7,465.8 L500.7,465.7 L501.7,460.5 L502.7,467.2 L503.7,465.8 L504.7,465.4 L505.7,467.6 L506.7,469.8 L507.7,474.0 L508.7,473.8 L509.7,471.9 L510.7,470.7 L511.7,472.9 L512.7,472.0 L513.7,472.1 L514.7,472.8 L515.7,466.4 L516.7,458.9 L517.7,455.3 L518.7,458.6 L519.7,463.5 L520.7,465.8 L521.7,465.6 L522.7,465.7 L523.7,460.7 L524.7,452.6 L525.7,448.5 L526.7,456.6 L527.7,463.7 L528.7,465.8 L529.7,464.8 L530.7,467.9 L531.7,461.2 L532.7,469.4 L533.7,471.7 L534.7,471.3 L535.7,472.8 L536.7,472.8 L537.7,473.7 L538.7,464.8 L539.7,466.4 L540.7,465.3 L541.7,459.5 L542.7,452.5 L543.7,444.2 L544.7,419.5 L545.7,407.9 L546.7,426.3 L547.7,435.7 L548.7,443.6 L549.7,449.5 L550.7,450.5 L551.7,449.8 L552.7,448.3 L553.7,438.8 L554.7,444.1 L555.7,451.9 L556.7,454.9 L557.7,453.6 L558.7,453.4 L559.7,458.7 L560.7,462.0 L561.7,458.7 L562.7,457.7 L563.7,459.9 L564.7,456.7 L565.7,454.8 L566.7,455.7 L567.7,449.8 L568.7,439.4 L569.7,435.8 L570.7,432.8 L571.7,429.0 L572.7,416.0 L573.7,427.2 L574.7,424.3 L575.7,433.3 L576.7,437.2 L577.7,438.3 L578.7,442.0 L579.7,445.9 L580.7,449.7 L581.7,449.9 L582.7,453.9 L583.7,453.6 L584.7,439.3 L585.7,438.3 L586.7,444.1 L587.7,436.5 L588.7,446.6 L589.7,450.7 L590.7,446.3 L591.7,434.1 L592.7,434.3 L593.7,429.9 L594.7,428.7 L595.7,424.7 L596.7,438.5 L597.7,421.7 L598.7,411.1 L599.7,413.3 L600.7,404.3 L601.7,391.2 L602.7,383.5 L603.7,370.0 L604.7,363.1 L605.7,361.0 L606.7,370.5 L607.7,378.6 L608.7,377.1 L609.7,384.9 L610.7,389.6 L611.7,400.4 L612.7,405.1 L613.7,426.1 L614.7,418.2 L615.7,431.6 L616.7,440.6 L617.7,443.2 L618.7,452.6 L619.7,456.2 L620.7,461.7 L621.7,463.0 L622.7,463.8 L623.7,461.2 L624.7,456.9 L625.7,455.3 L626.7,449.8 L627.7,448.8 L628.7,454.2 L629.7,455.4 L630.7,455.7 L631.7,439.9 L632.7,438.0 L633.7,441.9 L634.7,441.6 L635.7,435.1 L636.7,430.8 L637.7,418.0 L638.7,412.7 L639.7,420.9 L640.7,430.2 L641.7,432.7 L642.7,434.4 L643.7,434.1 L644.7,426.6 L645.7,419.1 L646.7,430.1 L647.7,432.8 L648.7,425.0 L649.7,430.2 L650.7,433.3 L651.7,440.3 L652.7,440.1 L653.7,448.9 L654.7,451.7 L655.7,455.6 L656.7,456.2 L657.7,457.6 L658.7,462.5 L659.7,465.5 L660.7,466.0 L661.7,450.5 L662.7,448.7 L663.7,451.0 L664.7,455.7 L665.7,455.0 L666.7,451.4 L667.7,454.4 L668.7,453.1 L669.7,457.8 L670.7,452.4 L671.7,457.4 L672.7,459.6 L673.7,459.7 L674.7,460.4 L675.7,449.7 L676.7,454.5 L677.7,457.9 L678.7,463.9 L679.7,460.6 L680.7,464.6 L681.7,462.4 L682.7,460.3 L683.7,461.4 L684.7,455.6 L685.7,455.0 L686.7,451.8 L687.7,454.8 L688.7,459.3 L689.7,448.0 L690.7,449.0 L691.7,452.1 L692.7,453.1 L693.7,454.6 L694.7,457.5 L695.7,464.0 L696.7,466.2 L697.7,469.1 L698.7,466.7 L699.7,465.8 L700.7,470.2 L701.7,472.8 L702.7,469.9 L703.7,468.3 L704.7,468.6 L705.7,463.1 L706.7,460.5 L707.7,453.9 L708.7,456.5 L709.7,451.8 L710.7,456.8 L711.7,454.5 L712.7,447.5 L713.7,447.7 L714.7,457.6 L715.7,456.0 L716.7,467.1 L717.7,473.0 L718.7,469.7 L719.7,469.9 L720.7,469.9 L721.7,476.5 L722.7,477.3 L723.7,475.6 L724.7,475.1 L725.7,475.7 L726.7,475.8 L727.7,479.3 L728.7,481.3 L729.7,472.1 L730.7,463.7 L731.7,464.1 L732.7,462.7 L733.7,464.2 L734.7,458.6 L735.7,466.2 L736.7,470.2 L737.7,468.2 L738.7,465.1 L739.7,462.6 L740.7,465.1 L741.7,469.5 L742.7,474.2 L743.7,476.1 L744.7,475.7 L745.7,474.9 L746.7,472.4 L747.7,476.1 L748.7,475.3 L749.7,475.2 L750.7,473.4 L751.7,475.0 L752.7,479.0 L753.7,480.3 L754.7,480.5 L755.7,479.6 L756.7,479.8 L757.7,479.2 L758.7,480.1 L759.7,479.2 L760.7,480.3 L761.7,481.1 L762.7,481.3 L763.7,480.4 L764.7,478.9 L765.7,478.3 L766.7,478.8 L767.7,479.1 L768.7,475.4 L769.7,465.0 L770.7,442.6 L771.7,443.1 L772.7,450.9 L773.7,458.1 L774.7,463.2 L775.7,463.5 L776.7,468.2 L777.7,471.9 L778.7,463.4 L779.7,450.9 L780.7,396.4 L781.7,391.8 L782.7,420.9 L783.7,437.3 L784.7,449.4 L785.7,457.3 L786.7,464.0 L787.7,470.3 L788.7,471.3 L789.7,474.6 L790.7,476.7 L791.7,476.1 L792.7,476.4 L793.7,475.4 L794.7,476.3 L795.7,477.0 L796.7,472.4 L797.7,474.7 L798.7,476.6 L799.7,476.0 L800.7,477.8 L801.7,475.7 L802.7,478.5 L803.7,482.2 L804.7,484.9 L805.7,483.1 L806.7,484.5 L807.7,485.5 L808.7,485.7 L809.7,486.3 L810.7,487.4 L811.7,485.3 L812.7,485.7 L813.7,482.3 L814.7,481.2 L815.7,479.2 L816.7,475.5 L817.7,474.0 L818.7,480.7 L819.7,485.0 L820.7,486.5 L821.7,485.2 L822.7,484.4 L823.7,483.8 L824.7,482.1 L825.7,483.4 L826.7,484.5 L827.7,483.3 L828.7,484.3 L829.7,476.4 L830.7,460.6 L831.7,466.9 L832.7,472.8 L833.7,475.3 L834.7,477.9 L835.7,480.8 L836.7,479.4 L837.7,479.7 L838.7,478.9 L839.7,480.1 L840.7,479.9 L841.7,481.7 L842.7,479.1 L843.7,480.3 L844.7,475.4 L845.7,476.7 L846.7,477.4 L847.7,479.8 L848.7,478.5 L849.7,473.6 L850.7,475.2 L851.7,473.8 L852.7,468.9 L853.7,458.9 L854.7,454.5 L855.7,457.6 L856.7,460.0 L857.7,468.6 L858.7,472.0 L859.7,461.0 L860.7,438.5 L861.7,430.0 L862.7,431.7 L863.7,442.8 L864.7,448.1 L865.7,452.8 L866.7,459.6 L867.7,461.1 L868.7,464.3 L869.7,461.0 L870.7,466.7 L871.7,469.4 L872.7,474.0 L873.7,475.8 L874.7,477.5 L875.7,479.3 L876.7,477.7 L877.7,479.3 L878.7,480.9 L879.7,481.8 L880.7,481.3 L881.7,479.5 L882.7,479.5 L883.7,479.1 L884.7,472.9 L885.7,478.6 L886.7,478.1 L887.7,479.2 L888.7,480.0 L889.7,480.1 L890.7,478.8 L891.7,476.8 L892.7,476.5 L893.7,476.8 L894.7,478.0 L895.7,476.2 L896.7,475.3 L897.7,471.0 L898.7,474.4 L899.7,477.0 L900.7,478.1 L901.7,481.2 L902.7,481.9 L903.7,481.0 L904.7,482.4 L905.7,481.0 L906.7,481.8 L907.7,482.1 L908.7,483.2 L909.7,480.6 L910.7,482.2 L911.7,481.4 L912.7,482.9 L913.7,483.8 L914.7,482.9 L915.7,479.8 L916.7,482.6 L917.7,481.7 L918.7,481.9 L919.7,483.0 L920.7,481.6 L921.7,481.5 L922.7,482.6 L923.7,484.1 L924.7,483.6 L925.7,484.8 L926.7,485.1 L927.7,481.7 L928.7,479.7 L929.7,480.8 L930.7,479.2 L931.7,479.9 L932.7,479.3 L933.7,479.9 L934.7,479.2 L935.7,479.3 L936.7,470.3 L937.7,462.9 L938.7,433.6 L939.7,432.5 L940.7,450.7 L941.7,462.1 L942.7,468.9 L943.7,473.0 L944.7,474.7 L945.7,478.5 L946.7,478.6 L947.7,479.3 L948.7,478.9 L949.7,480.6 L950.7,481.5 L951.7,481.7 L952.7,483.6 L953.7,484.4 L954.7,482.6 L955.7,482.5 L956.7,482.4 L957.7,476.9 L958.7,476.6 L959.7,474.2 L960.7,465.1 L961.7,461.3 L962.7,462.2 L963.7,470.7 L964.7,467.4 L965.7,473.3 L966.7,463.6 L967.7,467.8 L968.7,470.7 L969.7,469.8 L970.7,467.6 L971.7,468.3 L971.7,493.5 Z" fill="#B46092"/>
<path d="M47.7,493.5 L47.7,487.3 L48.7,488.7 L49.7,488.9 L50.7,488.6 L51.7,489.0 L52.7,488.1 L53.7,487.6 L54.7,487.7 L55.7,486.6 L56.7,487.4 L57.7,488.4 L58.7,489.3 L59.7,489.6 L60.7,489.1 L61.7,486.1 L62.7,487.1 L63.7,488.1 L64.7,489.1 L65.7,489.8 L66.7,489.8 L67.7,489.3 L68.7,489.3 L69.7,489.6 L70.7,484.9 L71.7,482.9 L72.7,484.4 L73.7,485.9 L74.7,486.2 L75.7,481.9 L76.7,483.0 L77.7,483.2 L78.7,484.8 L79.7,486.6 L80.7,487.4 L81.7,486.3 L82.7,486.7 L83.7,486.7 L84.7,486.5 L85.7,487.1 L86.7,487.8 L87.7,488.5 L88.7,489.1 L89.7,489.3 L90.7,489.5 L91.7,487.6 L92.7,488.4 L93.7,487.5 L94.7,483.4 L95.7,484.3 L96.7,485.1 L97.7,480.6 L98.7,479.3 L99.7,479.7 L100.7,480.3 L101.7,481.2 L102.7,481.1 L103.7,483.2 L104.7,484.5 L105.7,484.4 L106.7,485.0 L107.7,486.4 L108.7,485.5 L109.7,485.8 L110.7,482.0 L111.7,479.6 L112.7,482.1 L113.7,484.9 L114.7,485.0 L115.7,485.1 L116.7,485.0 L117.7,486.3 L118.7,486.7 L119.7,487.8 L120.7,488.2 L121.7,487.0 L122.7,487.9 L123.7,484.4 L124.7,481.8 L125.7,484.5 L126.7,486.4 L127.7,487.9 L128.7,489.1 L129.7,489.3 L130.7,488.8 L131.7,489.0 L132.7,489.1 L133.7,486.8 L134.7,487.7 L135.7,487.0 L136.7,486.9 L137.7,482.5 L138.7,484.3 L139.7,479.8 L140.7,481.9 L141.7,479.8 L142.7,482.0 L143.7,484.9 L144.7,485.6 L145.7,486.9 L146.7,486.5 L147.7,479.8 L148.7,483.0 L149.7,484.4 L150.7,486.6 L151.7,487.6 L152.7,486.9 L153.7,487.8 L154.7,487.7 L155.7,488.0 L156.7,488.0 L157.7,487.9 L158.7,488.1 L159.7,488.1 L160.7,486.6 L161.7,485.1 L162.7,437.6 L163.7,425.8 L164.7,442.5 L165.7,453.3 L166.7,461.8 L167.7,468.9 L168.7,471.1 L169.7,474.2 L170.7,476.7 L171.7,478.8 L172.7,477.4 L173.7,477.8 L174.7,478.5 L175.7,478.0 L176.7,481.5 L177.7,482.1 L178.7,481.4 L179.7,478.7 L180.7,480.7 L181.7,480.3 L182.7,481.7 L183.7,482.6 L184.7,484.5 L185.7,485.2 L186.7,482.6 L187.7,483.4 L188.7,481.6 L189.7,482.8 L190.7,483.5 L191.7,481.6 L192.7,480.4 L193.7,483.2 L194.7,484.6 L195.7,454.9 L196.7,443.0 L197.7,458.9 L198.7,465.3 L199.7,471.8 L200.7,472.0 L201.7,472.4 L202.7,478.5 L203.7,480.7 L204.7,484.1 L205.7,485.0 L206.7,487.0 L207.7,486.9 L208.7,487.7 L209.7,487.8 L210.7,487.5 L211.7,487.0 L212.7,488.0 L213.7,487.9 L214.7,488.8 L215.7,488.7 L216.7,487.0 L217.7,486.5 L218.7,487.1 L219.7,485.2 L220.7,485.8 L221.7,484.4 L222.7,486.1 L223.7,486.8 L224.7,486.6 L225.7,485.8 L226.7,477.9 L227.7,465.6 L228.7,468.2 L229.7,474.9 L230.7,478.9 L231.7,482.5 L232.7,483.5 L233.7,485.9 L234.7,486.2 L235.7,485.8 L236.7,485.8 L237.7,484.9 L238.7,484.9 L239.7,486.6 L240.7,486.4 L241.7,486.3 L242.7,486.5 L243.7,479.4 L244.7,477.7 L245.7,480.5 L246.7,480.9 L247.7,482.9 L248.7,483.4 L249.7,485.3 L250.7,486.5 L251.7,486.2 L252.7,484.8 L253.7,484.6 L254.7,485.8 L255.7,487.5 L256.7,488.4 L257.7,488.2 L258.7,488.3 L259.7,479.0 L260.7,454.9 L261.7,458.5 L262.7,467.2 L263.7,474.6 L264.7,479.3 L265.7,483.2 L266.7,485.7 L267.7,486.9 L268.7,487.6 L269.7,488.8 L270.7,488.8 L271.7,485.9 L272.7,487.7 L273.7,489.2 L274.7,490.2 L275.7,489.8 L276.7,489.2 L277.7,488.9 L278.7,489.2 L279.7,489.5 L280.7,488.1 L281.7,488.3 L282.7,488.4 L283.7,488.0 L284.7,488.4 L285.7,488.4 L286.7,488.6 L287.7,488.9 L288.7,487.7 L289.7,487.3 L290.7,488.1 L291.7,488.3 L292.7,488.0 L293.7,488.0 L294.7,488.2 L295.7,489.6 L296.7,490.3 L297.7,490.2 L298.7,489.7 L299.7,490.4 L300.7,490.0 L301.7,490.2 L302.7,488.9 L303.7,488.7 L304.7,484.8 L305.7,486.4 L306.7,486.9 L307.7,487.8 L308.7,488.7 L309.7,489.2 L310.7,489.0 L311.7,488.9 L312.7,489.1 L313.7,489.8 L314.7,489.5 L315.7,489.4 L316.7,489.7 L317.7,488.6 L318.7,489.1 L319.7,488.9 L320.7,488.1 L321.7,476.8 L322.7,436.9 L323.7,433.8 L324.7,443.8 L325.7,453.3 L326.7,459.5 L327.7,465.7 L328.7,472.4 L329.7,475.8 L330.7,480.7 L331.7,481.9 L332.7,482.7 L333.7,482.8 L334.7,485.0 L335.7,478.9 L336.7,481.3 L337.7,480.2 L338.7,481.4 L339.7,483.6 L340.7,482.3 L341.7,479.3 L342.7,481.6 L343.7,483.6 L344.7,480.5 L345.7,463.1 L346.7,446.8 L347.7,454.4 L348.7,459.4 L349.7,463.2 L350.7,467.7 L351.7,472.7 L352.7,474.8 L353.7,478.8 L354.7,480.3 L355.7,473.5 L356.7,478.0 L357.7,479.5 L358.7,476.7 L359.7,474.8 L360.7,476.9 L361.7,480.1 L362.7,482.8 L363.7,484.3 L364.7,484.4 L365.7,485.6 L366.7,487.2 L367.7,488.1 L368.7,487.5 L369.7,487.2 L370.7,486.8 L371.7,486.5 L372.7,484.9 L373.7,478.8 L374.7,481.3 L375.7,483.8 L376.7,483.5 L377.7,486.1 L378.7,484.9 L379.7,484.5 L380.7,486.8 L381.7,487.6 L382.7,488.5 L383.7,488.2 L384.7,488.0 L385.7,488.3 L386.7,486.9 L387.7,486.7 L388.7,487.7 L389.7,487.3 L390.7,487.8 L391.7,488.1 L392.7,487.4 L393.7,486.1 L394.7,485.4 L395.7,485.6 L396.7,485.8 L397.7,486.8 L398.7,486.3 L399.7,486.1 L400.7,485.5 L401.7,485.9 L402.7,487.3 L403.7,488.0 L404.7,485.1 L405.7,487.3 L406.7,487.4 L407.7,488.0 L408.7,488.9 L409.7,488.0 L410.7,486.6 L411.7,487.8 L412.7,488.2 L413.7,488.0 L414.7,487.5 L415.7,488.6 L416.7,488.8 L417.7,487.9 L418.7,488.6 L419.7,488.7 L420.7,487.4 L421.7,486.0 L422.7,487.1 L423.7,487.5 L424.7,487.8 L425.7,488.3 L426.7,488.0 L427.7,483.7 L428.7,474.8 L429.7,474.1 L430.7,477.4 L431.7,480.3 L432.7,481.2 L433.7,483.3 L434.7,485.5 L435.7,485.7 L436.7,485.6 L437.7,485.7 L438.7,481.3 L439.7,482.9 L440.7,484.2 L441.7,484.6 L442.7,484.2 L443.7,484.6 L444.7,471.9 L445.7,467.6 L446.7,456.7 L447.7,454.6 L448.7,463.8 L449.7,470.6 L450.7,473.3 L451.7,473.4 L452.7,476.1 L453.7,479.7 L454.7,480.3 L455.7,481.4 L456.7,481.4 L457.7,481.7 L458.7,481.4 L459.7,482.3 L460.7,484.1 L461.7,485.2 L462.7,487.2 L463.7,486.2 L464.7,486.7 L465.7,485.6 L466.7,483.3 L467.7,482.4 L468.7,481.9 L469.7,481.7 L470.7,477.0 L471.7,471.5 L472.7,471.5 L473.7,474.3 L474.7,476.7 L475.7,477.3 L476.7,476.0 L477.7,479.5 L478.7,481.3 L479.7,475.6 L480.7,478.9 L481.7,478.3 L482.7,481.6 L483.7,480.7 L484.7,481.3 L485.7,482.8 L486.7,484.5 L487.7,484.7 L488.7,485.6 L489.7,487.6 L490.7,482.2 L491.7,481.4 L492.7,483.2 L493.7,484.7 L494.7,482.2 L495.7,483.6 L496.7,482.7 L497.7,486.1 L498.7,486.1 L499.7,484.4 L500.7,484.9 L501.7,485.9 L502.7,486.3 L503.7,482.3 L504.7,482.6 L505.7,480.4 L506.7,481.7 L507.7,483.1 L508.7,482.3 L509.7,483.1 L510.7,484.2 L511.7,483.4 L512.7,485.5 L513.7,485.4 L514.7,483.2 L515.7,482.3 L516.7,483.5 L517.7,475.3 L518.7,479.9 L519.7,481.4 L520.7,481.5 L521.7,479.7 L522.7,480.9 L523.7,483.2 L524.7,472.7 L525.7,477.0 L526.7,480.1 L527.7,481.7 L528.7,481.3 L529.7,483.8 L530.7,484.3 L531.7,483.5 L532.7,485.6 L533.7,484.3 L534.7,485.5 L535.7,486.4 L536.7,485.5 L537.7,485.3 L538.7,485.2 L539.7,484.4 L540.7,482.6 L541.7,481.5 L542.7,481.8 L543.7,475.7 L544.7,476.6 L545.7,477.8 L546.7,480.0 L547.7,479.7 L548.7,479.5 L549.7,475.0 L550.7,474.1 L551.7,477.5 L552.7,473.8 L553.7,476.3 L554.7,478.7 L555.7,481.2 L556.7,483.4 L557.7,474.6 L558.7,475.6 L559.7,478.0 L560.7,477.1 L561.7,474.1 L562.7,474.3 L563.7,476.2 L564.7,476.6 L565.7,471.9 L566.7,471.8 L567.7,468.6 L568.7,469.8 L569.7,466.5 L570.7,455.7 L571.7,468.3 L572.7,461.6 L573.7,464.2 L574.7,455.9 L575.7,464.1 L576.7,462.3 L577.7,460.3 L578.7,460.3 L579.7,462.4 L580.7,463.6 L581.7,464.1 L582.7,470.3 L583.7,470.9 L584.7,473.7 L585.7,473.9 L586.7,474.6 L587.7,473.3 L588.7,475.8 L589.7,471.2 L590.7,465.3 L591.7,465.4 L592.7,463.5 L593.7,457.5 L594.7,459.7 L595.7,454.8 L596.7,463.3 L597.7,465.1 L598.7,457.8 L599.7,459.2 L600.7,449.4 L601.7,440.9 L602.7,415.4 L603.7,396.9 L604.7,400.9 L605.7,409.8 L606.7,416.4 L607.7,416.4 L608.7,416.6 L609.7,424.9 L610.7,437.1 L611.7,435.3 L612.7,439.6 L613.7,451.6 L614.7,448.5 L615.7,457.5 L616.7,468.3 L617.7,473.7 L618.7,477.1 L619.7,473.6 L620.7,475.8 L621.7,476.9 L622.7,476.2 L623.7,472.6 L624.7,472.8 L625.7,470.6 L626.7,470.8 L627.7,471.5 L628.7,474.5 L629.7,476.1 L630.7,475.2 L631.7,453.9 L632.7,453.5 L633.7,456.7 L634.7,457.7 L635.7,453.5 L636.7,450.0 L637.7,446.2 L638.7,436.6 L639.7,444.7 L640.7,449.0 L641.7,448.6 L642.7,448.2 L643.7,447.9 L644.7,453.9 L645.7,457.3 L646.7,462.1 L647.7,465.2 L648.7,457.5 L649.7,463.2 L650.7,465.2 L651.7,466.0 L652.7,463.6 L653.7,466.7 L654.7,468.5 L655.7,473.6 L656.7,473.7 L657.7,473.4 L658.7,476.5 L659.7,476.6 L660.7,476.0 L661.7,459.2 L662.7,459.3 L663.7,464.3 L664.7,467.0 L665.7,467.2 L666.7,472.4 L667.7,472.2 L668.7,464.9 L669.7,467.9 L670.7,469.0 L671.7,472.8 L672.7,474.5 L673.7,473.7 L674.7,475.8 L675.7,478.0 L676.7,478.1 L677.7,479.1 L678.7,478.7 L679.7,474.3 L680.7,476.1 L681.7,478.2 L682.7,477.1 L683.7,479.3 L684.7,475.0 L685.7,477.1 L686.7,468.3 L687.7,473.0 L688.7,474.6 L689.7,477.6 L690.7,475.0 L691.7,476.9 L692.7,477.7 L693.7,477.9 L694.7,476.9 L695.7,478.6 L696.7,481.7 L697.7,481.9 L698.7,476.6 L699.7,478.0 L700.7,478.5 L701.7,480.1 L702.7,477.2 L703.7,476.5 L704.7,477.8 L705.7,476.5 L706.7,472.5 L707.7,467.3 L708.7,468.2 L709.7,470.6 L710.7,471.3 L711.7,466.5 L712.7,459.0 L713.7,459.5 L714.7,467.9 L715.7,465.5 L716.7,474.5 L717.7,478.5 L718.7,477.5 L719.7,479.3 L720.7,479.3 L721.7,484.2 L722.7,485.9 L723.7,484.1 L724.7,484.8 L725.7,483.8 L726.7,485.1 L727.7,486.7 L728.7,487.6 L729.7,476.4 L730.7,467.8 L731.7,472.2 L732.7,472.4 L733.7,474.4 L734.7,473.2 L735.7,477.5 L736.7,478.7 L737.7,479.6 L738.7,481.3 L739.7,481.3 L740.7,482.3 L741.7,484.8 L742.7,486.2 L743.7,486.7 L744.7,486.6 L745.7,486.2 L746.7,482.6 L747.7,483.6 L748.7,483.1 L749.7,482.1 L750.7,482.5 L751.7,485.4 L752.7,487.4 L753.7,488.1 L754.7,488.6 L755.7,486.5 L756.7,487.5 L757.7,485.5 L758.7,485.7 L759.7,486.8 L760.7,487.2 L761.7,487.4 L762.7,487.4 L763.7,486.9 L764.7,487.2 L765.7,486.4 L766.7,487.4 L767.7,487.6 L768.7,484.4 L769.7,474.7 L770.7,454.3 L771.7,452.1 L772.7,458.7 L773.7,467.9 L774.7,472.5 L775.7,477.1 L776.7,481.3 L777.7,483.2 L778.7,481.4 L779.7,469.6 L780.7,410.1 L781.7,413.8 L782.7,438.4 L783.7,455.7 L784.7,467.1 L785.7,475.4 L786.7,479.8 L787.7,482.3 L788.7,484.4 L789.7,485.8 L790.7,486.3 L791.7,485.3 L792.7,485.8 L793.7,484.8 L794.7,486.2 L795.7,487.5 L796.7,488.3 L797.7,488.8 L798.7,489.5 L799.7,486.0 L800.7,486.5 L801.7,487.7 L802.7,487.9 L803.7,489.1 L804.7,490.0 L805.7,490.0 L806.7,490.2 L807.7,490.2 L808.7,490.2 L809.7,490.1 L810.7,490.6 L811.7,489.5 L812.7,489.5 L813.7,487.3 L814.7,486.4 L815.7,486.4 L816.7,486.6 L817.7,485.9 L818.7,488.3 L819.7,489.5 L820.7,490.7 L821.7,489.7 L822.7,489.5 L823.7,489.5 L824.7,489.2 L825.7,490.1 L826.7,490.2 L827.7,490.4 L828.7,491.3 L829.7,482.5 L830.7,468.3 L831.7,472.3 L832.7,477.8 L833.7,480.9 L834.7,483.7 L835.7,485.6 L836.7,486.1 L837.7,487.3 L838.7,486.0 L839.7,486.4 L840.7,487.3 L841.7,487.4 L842.7,487.8 L843.7,488.0 L844.7,484.3 L845.7,485.2 L846.7,486.2 L847.7,487.5 L848.7,487.7 L849.7,487.0 L850.7,486.9 L851.7,485.0 L852.7,482.0 L853.7,476.9 L854.7,479.4 L855.7,477.1 L856.7,480.3 L857.7,483.0 L858.7,483.1 L859.7,473.0 L860.7,447.9 L861.7,439.9 L862.7,445.2 L863.7,454.6 L864.7,460.2 L865.7,466.7 L866.7,470.5 L867.7,473.0 L868.7,475.9 L869.7,480.3 L870.7,482.3 L871.7,483.7 L872.7,485.4 L873.7,486.1 L874.7,486.1 L875.7,486.6 L876.7,486.7 L877.7,486.8 L878.7,486.7 L879.7,486.9 L880.7,486.8 L881.7,485.9 L882.7,484.6 L883.7,485.9 L884.7,487.0 L885.7,488.2 L886.7,488.2 L887.7,488.7 L888.7,489.3 L889.7,487.8 L890.7,488.2 L891.7,488.8 L892.7,488.0 L893.7,486.5 L894.7,486.3 L895.7,487.3 L896.7,485.2 L897.7,484.6 L898.7,486.1 L899.7,487.2 L900.7,487.7 L901.7,489.1 L902.7,488.2 L903.7,487.8 L904.7,488.8 L905.7,488.1 L906.7,488.5 L907.7,489.1 L908.7,489.1 L909.7,487.7 L910.7,488.7 L911.7,488.6 L912.7,489.0 L913.7,489.2 L914.7,488.0 L915.7,487.1 L916.7,488.2 L917.7,488.0 L918.7,488.3 L919.7,489.2 L920.7,486.9 L921.7,487.4 L922.7,488.0 L923.7,488.7 L924.7,489.2 L925.7,489.8 L926.7,490.4 L927.7,490.0 L928.7,489.3 L929.7,489.8 L930.7,488.9 L931.7,489.2 L932.7,489.2 L933.7,487.9 L934.7,487.8 L935.7,488.5 L936.7,481.5 L937.7,473.8 L938.7,442.2 L939.7,441.1 L940.7,458.5 L941.7,467.9 L942.7,474.1 L943.7,478.4 L944.7,481.8 L945.7,484.5 L946.7,485.0 L947.7,485.6 L948.7,486.6 L949.7,486.9 L950.7,487.1 L951.7,487.5 L952.7,488.1 L953.7,488.4 L954.7,489.2 L955.7,488.9 L956.7,487.4 L957.7,481.4 L958.7,482.7 L959.7,481.8 L960.7,477.7 L961.7,476.2 L962.7,475.0 L963.7,479.1 L964.7,478.3 L965.7,481.9 L966.7,472.0 L967.7,475.0 L968.7,478.3 L969.7,480.8 L970.7,480.5 L971.7,479.5 L971.7,493.5 Z" fill="#93589C"/>
<path d="M47.7,493.5 L47.7,490.8 L48.7,491.4 L49.7,491.9 L50.7,492.0 L51.7,492.2 L52.7,492.3 L53.7,492.2 L54.7,491.6 L55.7,491.9 L56.7,491.9 L57.7,492.2 L58.7,492.1 L59.7,492.1 L60.7,492.3 L61.7,491.9 L62.7,492.0 L63.7,492.1 L64.7,492.1 L65.7,492.3 L66.7,492.1 L67.7,492.4 L68.7,492.3 L69.7,491.9 L70.7,490.7 L71.7,487.9 L72.7,488.7 L73.7,489.8 L74.7,490.4 L75.7,491.3 L76.7,491.7 L77.7,491.5 L78.7,491.2 L79.7,491.8 L80.7,491.5 L81.7,492.0 L82.7,491.9 L83.7,491.2 L84.7,491.1 L85.7,491.0 L86.7,491.4 L87.7,492.0 L88.7,492.2 L89.7,492.3 L90.7,492.0 L91.7,492.0 L92.7,492.0 L93.7,492.1 L94.7,492.1 L95.7,492.0 L96.7,491.3 L97.7,486.7 L98.7,486.0 L99.7,485.8 L100.7,486.5 L101.7,487.6 L102.7,487.9 L103.7,488.3 L104.7,489.4 L105.7,490.0 L106.7,490.5 L107.7,490.8 L108.7,491.1 L109.7,491.4 L110.7,489.4 L111.7,489.1 L112.7,490.1 L113.7,490.7 L114.7,491.3 L115.7,491.5 L116.7,490.5 L117.7,491.0 L118.7,491.1 L119.7,491.5 L120.7,491.6 L121.7,491.0 L122.7,491.4 L123.7,489.2 L124.7,485.5 L125.7,487.4 L126.7,488.7 L127.7,489.8 L128.7,490.7 L129.7,491.2 L130.7,490.7 L131.7,491.5 L132.7,491.6 L133.7,491.1 L134.7,491.5 L135.7,491.5 L136.7,491.4 L137.7,488.3 L138.7,488.4 L139.7,489.3 L140.7,490.1 L141.7,489.5 L142.7,490.0 L143.7,490.8 L144.7,491.4 L145.7,491.7 L146.7,491.3 L147.7,489.4 L148.7,490.2 L149.7,489.9 L150.7,490.4 L151.7,491.1 L152.7,491.5 L153.7,491.4 L154.7,491.3 L155.7,491.1 L156.7,491.4 L157.7,491.5 L158.7,491.4 L159.7,491.4 L160.7,491.6 L161.7,491.4 L162.7,481.0 L163.7,478.9 L164.7,479.1 L165.7,480.2 L166.7,480.8 L167.7,482.5 L168.7,482.7 L169.7,484.0 L170.7,485.0 L171.7,485.5 L172.7,486.8 L173.7,486.6 L174.7,486.6 L175.7,486.7 L176.7,487.9 L177.7,489.0 L178.7,489.6 L179.7,490.4 L180.7,490.3 L181.7,489.9 L182.7,490.1 L183.7,490.5 L184.7,490.5 L185.7,491.2 L186.7,491.4 L187.7,491.0 L188.7,491.1 L189.7,491.2 L190.7,491.3 L191.7,490.9 L192.7,491.2 L193.7,491.0 L194.7,491.0 L195.7,487.3 L196.7,485.3 L197.7,485.8 L198.7,486.9 L199.7,487.3 L200.7,487.9 L201.7,488.8 L202.7,489.6 L203.7,490.0 L204.7,490.3 L205.7,490.9 L206.7,491.0 L207.7,490.8 L208.7,491.0 L209.7,490.9 L210.7,490.8 L211.7,490.7 L212.7,490.9 L213.7,491.6 L214.7,491.9 L215.7,491.7 L216.7,492.0 L217.7,490.7 L218.7,491.2 L219.7,490.6 L220.7,491.1 L221.7,491.5 L222.7,491.8 L223.7,491.6 L224.7,490.9 L225.7,490.2 L226.7,489.0 L227.7,490.8 L228.7,491.4 L229.7,491.7 L230.7,491.9 L231.7,491.8 L232.7,492.0 L233.7,492.3 L234.7,490.6 L235.7,490.7 L236.7,490.8 L237.7,490.7 L238.7,490.4 L239.7,491.0 L240.7,490.6 L241.7,490.9 L242.7,491.0 L243.7,490.7 L244.7,489.9 L245.7,490.3 L246.7,490.4 L247.7,490.6 L248.7,491.3 L249.7,491.0 L250.7,491.5 L251.7,491.6 L252.7,491.9 L253.7,492.3 L254.7,492.5 L255.7,492.3 L256.7,492.0 L257.7,492.0 L258.7,491.9 L259.7,492.0 L260.7,492.4 L261.7,491.9 L262.7,491.8 L263.7,492.1 L264.7,491.4 L265.7,491.8 L266.7,491.5 L267.7,491.9 L268.7,492.0 L269.7,492.2 L270.7,492.4 L271.7,491.9 L272.7,492.0 L273.7,492.4 L274.7,492.6 L275.7,492.1 L276.7,492.3 L277.7,492.4 L278.7,492.5 L279.7,492.4 L280.7,492.2 L281.7,492.5 L282.7,492.4 L283.7,492.3 L284.7,492.2 L285.7,492.1 L286.7,491.9 L287.7,492.3 L288.7,492.4 L289.7,492.4 L290.7,492.4 L291.7,492.3 L292.7,492.4 L293.7,492.3 L294.7,492.3 L295.7,492.5 L296.7,492.6 L297.7,492.4 L298.7,492.4 L299.7,492.5 L300.7,492.6 L301.7,492.5 L302.7,492.2 L303.7,491.5 L304.7,491.9 L305.7,491.9 L306.7,492.1 L307.7,492.1 L308.7,492.0 L309.7,492.3 L310.7,492.3 L311.7,492.0 L312.7,492.2 L313.7,492.5 L314.7,492.7 L315.7,492.8 L316.7,492.4 L317.7,492.4 L318.7,492.3 L319.7,492.1 L320.7,492.2 L321.7,491.2 L322.7,485.6 L323.7,483.9 L324.7,483.5 L325.7,483.0 L326.7,483.0 L327.7,482.7 L328.7,484.0 L329.7,484.6 L330.7,486.3 L331.7,486.8 L332.7,487.6 L333.7,488.0 L334.7,489.0 L335.7,489.7 L336.7,489.4 L337.7,489.4 L338.7,489.0 L339.7,489.7 L340.7,488.4 L341.7,489.7 L342.7,489.2 L343.7,489.8 L344.7,490.3 L345.7,487.2 L346.7,483.1 L347.7,483.6 L348.7,483.0 L349.7,482.6 L350.7,484.1 L351.7,485.2 L352.7,485.6 L353.7,486.7 L354.7,487.0 L355.7,487.4 L356.7,487.5 L357.7,487.4 L358.7,487.9 L359.7,484.1 L360.7,486.5 L361.7,487.9 L362.7,488.9 L363.7,489.2 L364.7,488.7 L365.7,489.9 L366.7,490.5 L367.7,491.1 L368.7,490.6 L369.7,490.9 L370.7,490.7 L371.7,490.6 L372.7,490.7 L373.7,490.1 L374.7,490.7 L375.7,491.0 L376.7,491.0 L377.7,491.4 L378.7,491.6 L379.7,491.0 L380.7,491.4 L381.7,491.6 L382.7,491.7 L383.7,492.1 L384.7,491.9 L385.7,491.7 L386.7,490.5 L387.7,491.2 L388.7,491.4 L389.7,491.7 L390.7,491.6 L391.7,491.3 L392.7,491.1 L393.7,490.8 L394.7,490.5 L395.7,490.4 L396.7,490.7 L397.7,491.0 L398.7,490.9 L399.7,490.3 L400.7,490.2 L401.7,490.6 L402.7,491.3 L403.7,491.2 L404.7,490.8 L405.7,491.4 L406.7,491.3 L407.7,491.5 L408.7,491.8 L409.7,491.5 L410.7,489.2 L411.7,490.1 L412.7,490.3 L413.7,491.0 L414.7,490.4 L415.7,491.2 L416.7,491.7 L417.7,490.1 L418.7,491.0 L419.7,491.2 L420.7,491.4 L421.7,491.3 L422.7,491.6 L423.7,491.5 L424.7,491.3 L425.7,491.5 L426.7,491.9 L427.7,492.3 L428.7,492.6 L429.7,490.6 L430.7,490.9 L431.7,491.3 L432.7,491.3 L433.7,491.1 L434.7,491.5 L435.7,491.5 L436.7,491.1 L437.7,491.2 L438.7,489.9 L439.7,490.5 L440.7,490.7 L441.7,490.9 L442.7,490.4 L443.7,490.2 L444.7,488.6 L445.7,489.6 L446.7,490.7 L447.7,490.4 L448.7,490.7 L449.7,491.1 L450.7,488.9 L451.7,487.6 L452.7,489.1 L453.7,489.9 L454.7,490.1 L455.7,490.1 L456.7,490.7 L457.7,491.0 L458.7,491.3 L459.7,490.9 L460.7,491.7 L461.7,492.0 L462.7,492.2 L463.7,492.1 L464.7,491.9 L465.7,491.9 L466.7,491.5 L467.7,491.4 L468.7,490.8 L469.7,490.8 L470.7,488.4 L471.7,488.7 L472.7,487.9 L473.7,488.5 L474.7,489.0 L475.7,489.4 L476.7,489.6 L477.7,489.8 L478.7,490.2 L479.7,490.1 L480.7,490.6 L481.7,491.0 L482.7,491.1 L483.7,491.6 L484.7,490.3 L485.7,490.7 L486.7,490.4 L487.7,491.2 L488.7,491.3 L489.7,491.9 L490.7,492.1 L491.7,492.3 L492.7,492.3 L493.7,492.3 L494.7,492.1 L495.7,491.6 L496.7,491.4 L497.7,491.8 L498.7,491.1 L499.7,489.5 L500.7,489.4 L501.7,490.0 L502.7,490.5 L503.7,488.2 L504.7,488.6 L505.7,490.3 L506.7,490.1 L507.7,490.5 L508.7,490.7 L509.7,491.4 L510.7,491.4 L511.7,491.7 L512.7,492.1 L513.7,491.8 L514.7,491.7 L515.7,491.6 L516.7,491.0 L517.7,490.8 L518.7,490.8 L519.7,490.9 L520.7,490.5 L521.7,490.5 L522.7,490.8 L523.7,491.2 L524.7,491.4 L525.7,491.8 L526.7,491.5 L527.7,491.5 L528.7,491.8 L529.7,491.9 L530.7,491.1 L531.7,491.5 L532.7,491.7 L533.7,492.0 L534.7,492.0 L535.7,491.6 L536.7,490.9 L537.7,491.0 L538.7,491.0 L539.7,491.0 L540.7,490.4 L541.7,489.9 L542.7,490.4 L543.7,483.8 L544.7,484.6 L545.7,485.5 L546.7,486.8 L547.7,487.1 L548.7,487.2 L549.7,487.6 L550.7,487.8 L551.7,488.4 L552.7,488.3 L553.7,488.4 L554.7,489.2 L555.7,489.8 L556.7,489.3 L557.7,488.7 L558.7,489.4 L559.7,489.5 L560.7,487.6 L561.7,486.9 L562.7,485.7 L563.7,486.7 L564.7,487.2 L565.7,487.6 L566.7,485.6 L567.7,485.8 L568.7,485.4 L569.7,480.2 L570.7,484.5 L571.7,486.5 L572.7,484.7 L573.7,485.7 L574.7,485.2 L575.7,485.8 L576.7,485.9 L577.7,486.7 L578.7,485.9 L579.7,484.7 L580.7,485.5 L581.7,486.5 L582.7,487.2 L583.7,486.0 L584.7,485.6 L585.7,485.5 L586.7,485.6 L587.7,484.3 L588.7,485.3 L589.7,481.7 L590.7,482.2 L591.7,482.5 L592.7,479.1 L593.7,479.3 L594.7,479.2 L595.7,476.3 L596.7,479.9 L597.7,479.5 L598.7,474.8 L599.7,476.4 L600.7,474.7 L601.7,469.4 L602.7,468.5 L603.7,477.2 L604.7,472.6 L605.7,468.2 L606.7,469.8 L607.7,468.7 L608.7,464.0 L609.7,469.6 L610.7,471.3 L611.7,470.2 L612.7,474.3 L613.7,477.2 L614.7,480.2 L615.7,481.5 L616.7,484.0 L617.7,483.5 L618.7,484.9 L619.7,484.0 L620.7,484.4 L621.7,485.5 L622.7,485.6 L623.7,482.8 L624.7,481.8 L625.7,478.3 L626.7,482.1 L627.7,481.9 L628.7,483.9 L629.7,485.6 L630.7,484.1 L631.7,483.9 L632.7,484.1 L633.7,484.7 L634.7,483.9 L635.7,479.3 L636.7,480.2 L637.7,479.1 L638.7,482.5 L639.7,479.4 L640.7,475.5 L641.7,475.1 L642.7,478.5 L643.7,478.5 L644.7,477.8 L645.7,477.8 L646.7,478.4 L647.7,480.2 L648.7,479.8 L649.7,480.7 L650.7,483.8 L651.7,482.6 L652.7,479.0 L653.7,482.0 L654.7,483.1 L655.7,484.7 L656.7,486.3 L657.7,487.0 L658.7,486.6 L659.7,487.6 L660.7,485.5 L661.7,484.7 L662.7,483.6 L663.7,484.5 L664.7,484.7 L665.7,481.8 L666.7,484.4 L667.7,484.3 L668.7,480.8 L669.7,480.6 L670.7,482.2 L671.7,483.7 L672.7,485.5 L673.7,486.0 L674.7,485.9 L675.7,486.6 L676.7,486.5 L677.7,486.7 L678.7,488.5 L679.7,488.8 L680.7,488.3 L681.7,488.9 L682.7,485.0 L683.7,486.3 L684.7,484.0 L685.7,486.0 L686.7,486.6 L687.7,487.2 L688.7,485.6 L689.7,487.5 L690.7,488.0 L691.7,488.3 L692.7,488.6 L693.7,489.4 L694.7,487.6 L695.7,488.5 L696.7,489.1 L697.7,489.3 L698.7,489.9 L699.7,489.2 L700.7,489.0 L701.7,489.3 L702.7,490.0 L703.7,489.9 L704.7,490.1 L705.7,487.6 L706.7,487.3 L707.7,488.9 L708.7,487.7 L709.7,487.8 L710.7,488.1 L711.7,488.3 L712.7,488.8 L713.7,486.2 L714.7,487.8 L715.7,487.5 L716.7,489.1 L717.7,490.0 L718.7,486.0 L719.7,486.5 L720.7,488.2 L721.7,489.7 L722.7,490.3 L723.7,490.3 L724.7,489.4 L725.7,489.9 L726.7,490.6 L727.7,491.2 L728.7,491.1 L729.7,491.7 L730.7,491.9 L731.7,490.8 L732.7,490.6 L733.7,490.0 L734.7,489.3 L735.7,489.9 L736.7,490.4 L737.7,491.0 L738.7,491.7 L739.7,490.9 L740.7,490.9 L741.7,491.0 L742.7,491.4 L743.7,491.0 L744.7,490.5 L745.7,491.1 L746.7,487.8 L747.7,488.0 L748.7,487.4 L749.7,488.8 L750.7,490.1 L751.7,490.8 L752.7,491.4 L753.7,491.9 L754.7,491.9 L755.7,490.0 L756.7,490.6 L757.7,490.5 L758.7,490.1 L759.7,490.7 L760.7,490.8 L761.7,491.7 L762.7,491.8 L763.7,491.7 L764.7,491.5 L765.7,491.7 L766.7,491.6 L767.7,491.7 L768.7,491.5 L769.7,491.7 L770.7,492.2 L771.7,492.0 L772.7,491.8 L773.7,491.2 L774.7,491.4 L775.7,491.1 L776.7,491.3 L777.7,491.1 L778.7,490.6 L779.7,483.8 L780.7,433.5 L781.7,435.8 L782.7,456.1 L783.7,469.9 L784.7,478.5 L785.7,484.4 L786.7,487.0 L787.7,487.9 L788.7,489.6 L789.7,490.7 L790.7,491.2 L791.7,490.7 L792.7,490.6 L793.7,491.1 L794.7,491.3 L795.7,491.9 L796.7,492.0 L797.7,492.2 L798.7,492.3 L799.7,492.4 L800.7,491.9 L801.7,492.4 L802.7,491.7 L803.7,492.2 L804.7,492.4 L805.7,492.7 L806.7,492.8 L807.7,492.3 L808.7,492.0 L809.7,492.3 L810.7,492.6 L811.7,492.5 L812.7,492.1 L813.7,491.7 L814.7,491.6 L815.7,491.6 L816.7,491.6 L817.7,492.1 L818.7,492.3 L819.7,492.5 L820.7,492.7 L821.7,492.6 L822.7,492.0 L823.7,491.9 L824.7,491.5 L825.7,492.1 L826.7,492.2 L827.7,492.4 L828.7,492.6 L829.7,492.4 L830.7,492.4 L831.7,492.6 L832.7,492.8 L833.7,492.0 L834.7,491.8 L835.7,491.9 L836.7,492.0 L837.7,492.3 L838.7,492.2 L839.7,492.2 L840.7,492.1 L841.7,492.2 L842.7,492.3 L843.7,492.5 L844.7,492.7 L845.7,492.6 L846.7,492.5 L847.7,492.4 L848.7,492.3 L849.7,491.6 L850.7,491.3 L851.7,491.1 L852.7,490.4 L853.7,490.8 L854.7,491.3 L855.7,491.5 L856.7,489.8 L857.7,490.3 L858.7,488.7 L859.7,487.0 L860.7,482.9 L861.7,481.9 L862.7,482.6 L863.7,483.7 L864.7,483.6 L865.7,485.5 L866.7,486.8 L867.7,487.1 L868.7,487.2 L869.7,488.7 L870.7,489.2 L871.7,489.9 L872.7,490.6 L873.7,490.2 L874.7,490.4 L875.7,490.9 L876.7,490.3 L877.7,490.1 L878.7,491.1 L879.7,491.3 L880.7,490.9 L881.7,490.9 L882.7,491.3 L883.7,491.8 L884.7,491.3 L885.7,491.9 L886.7,491.9 L887.7,492.0 L888.7,492.1 L889.7,490.9 L890.7,491.6 L891.7,491.8 L892.7,492.0 L893.7,491.7 L894.7,491.6 L895.7,491.8 L896.7,492.1 L897.7,492.3 L898.7,492.2 L899.7,492.3 L900.7,492.4 L901.7,492.5 L902.7,492.3 L903.7,492.4 L904.7,492.3 L905.7,491.8 L906.7,491.7 L907.7,491.9 L908.7,491.9 L909.7,491.0 L910.7,491.5 L911.7,491.8 L912.7,491.8 L913.7,491.5 L914.7,491.7 L915.7,491.9 L916.7,491.6 L917.7,491.7 L918.7,491.4 L919.7,491.8 L920.7,491.5 L921.7,490.7 L922.7,491.5 L923.7,491.8 L924.7,492.0 L925.7,492.2 L926.7,492.5 L927.7,492.4 L928.7,492.2 L929.7,492.4 L930.7,492.3 L931.7,492.3 L932.7,492.4 L933.7,492.3 L934.7,491.8 L935.7,491.9 L936.7,491.9 L937.7,485.5 L938.7,448.1 L939.7,445.5 L940.7,462.0 L941.7,472.7 L942.7,478.4 L943.7,482.7 L944.7,485.5 L945.7,487.5 L946.7,487.8 L947.7,488.4 L948.7,489.1 L949.7,489.8 L950.7,489.7 L951.7,490.1 L952.7,490.3 L953.7,490.7 L954.7,491.2 L955.7,491.3 L956.7,490.8 L957.7,490.7 L958.7,490.8 L959.7,490.3 L960.7,490.1 L961.7,488.7 L962.7,487.5 L963.7,489.7 L964.7,490.4 L965.7,490.8 L966.7,490.2 L967.7,490.4 L968.7,490.9 L969.7,490.8 L970.7,491.1 L971.7,489.8 L971.7,493.5 Z" fill="#7B4F9B"/>
<path d="M47.7,493.5 L47.7,492.8 L48.7,493.0 L49.7,493.1 L50.7,493.0 L51.7,493.1 L52.7,493.1 L53.7,493.2 L54.7,492.9 L55.7,492.9 L56.7,492.8 L57.7,492.9 L58.7,492.9 L59.7,492.8 L60.7,492.9 L61.7,493.1 L62.7,493.0 L63.7,493.1 L64.7,492.8 L65.7,493.0 L66.7,492.8 L67.7,493.0 L68.7,492.8 L69.7,492.6 L70.7,492.9 L71.7,492.9 L72.7,493.0 L73.7,493.0 L74.7,492.9 L75.7,492.9 L76.7,493.0 L77.7,492.9 L78.7,492.9 L79.7,493.0 L80.7,492.9 L81.7,493.1 L82.7,492.9 L83.7,493.0 L84.7,493.1 L85.7,492.9 L86.7,492.9 L87.7,493.0 L88.7,493.1 L89.7,493.1 L90.7,493.1 L91.7,493.0 L92.7,493.0 L93.7,492.9 L94.7,492.8 L95.7,492.9 L96.7,492.6 L97.7,492.5 L98.7,492.6 L99.7,492.3 L100.7,492.4 L101.7,492.5 L102.7,492.6 L103.7,492.7 L104.7,492.7 L105.7,492.8 L106.7,492.8 L107.7,492.8 L108.7,492.7 L109.7,492.7 L110.7,491.5 L111.7,491.8 L112.7,492.2 L113.7,492.5 L114.7,492.7 L115.7,492.7 L116.7,492.8 L117.7,492.9 L118.7,492.8 L119.7,492.8 L120.7,492.8 L121.7,492.9 L122.7,492.9 L123.7,492.9 L124.7,492.9 L125.7,493.0 L126.7,493.0 L127.7,493.1 L128.7,493.1 L129.7,493.1 L130.7,493.2 L131.7,493.2 L132.7,493.0 L133.7,492.8 L134.7,492.8 L135.7,492.9 L136.7,492.9 L137.7,493.0 L138.7,493.1 L139.7,493.1 L140.7,493.0 L141.7,493.1 L142.7,493.1 L143.7,493.1 L144.7,493.1 L145.7,493.0 L146.7,492.3 L147.7,492.5 L148.7,492.6 L149.7,492.0 L150.7,492.4 L151.7,492.6 L152.7,492.8 L153.7,492.8 L154.7,492.7 L155.7,492.8 L156.7,492.8 L157.7,492.8 L158.7,492.8 L159.7,492.8 L160.7,492.6 L161.7,492.6 L162.7,492.5 L163.7,492.7 L164.7,492.9 L165.7,492.9 L166.7,492.8 L167.7,492.9 L168.7,492.7 L169.7,492.8 L170.7,492.8 L171.7,492.9 L172.7,492.9 L173.7,492.7 L174.7,492.6 L175.7,492.5 L176.7,492.7 L177.7,492.9 L178.7,492.9 L179.7,492.9 L180.7,492.8 L181.7,492.7 L182.7,492.7 L183.7,492.8 L184.7,493.0 L185.7,493.0 L186.7,493.2 L187.7,492.9 L188.7,492.9 L189.7,493.0 L190.7,492.9 L191.7,493.0 L192.7,493.0 L193.7,492.9 L194.7,492.7 L195.7,492.9 L196.7,493.1 L197.7,492.8 L198.7,493.0 L199.7,493.1 L200.7,493.0 L201.7,493.0 L202.7,493.1 L203.7,493.1 L204.7,493.0 L205.7,493.1 L206.7,493.0 L207.7,493.0 L208.7,493.0 L209.7,493.0 L210.7,492.9 L211.7,492.9 L212.7,492.7 L213.7,492.8 L214.7,492.8 L215.7,492.9 L216.7,493.0 L217.7,493.1 L218.7,493.0 L219.7,493.1 L220.7,493.0 L221.7,493.1 L222.7,493.0 L223.7,493.0 L224.7,493.0 L225.7,492.2 L226.7,492.4 L227.7,492.8 L228.7,492.9 L229.7,492.9 L230.7,493.0 L231.7,492.8 L232.7,492.9 L233.7,493.0 L234.7,492.8 L235.7,492.9 L236.7,493.0 L237.7,492.9 L238.7,492.8 L239.7,492.8 L240.7,492.7 L241.7,492.7 L242.7,492.6 L243.7,492.8 L244.7,492.8 L245.7,492.9 L246.7,492.8 L247.7,492.9 L248.7,492.8 L249.7,492.8 L250.7,492.7 L251.7,492.8 L252.7,493.0 L253.7,493.1 L254.7,493.1 L255.7,492.9 L256.7,493.0 L257.7,493.0 L258.7,492.9 L259.7,492.8 L260.7,493.0 L261.7,493.0 L262.7,493.1 L263.7,493.1 L264.7,493.0 L265.7,492.9 L266.7,493.0 L267.7,492.9 L268.7,493.0 L269.7,493.0 L270.7,493.1 L271.7,493.2 L272.7,493.0 L273.7,493.1 L274.7,493.2 L275.7,493.1 L276.7,493.1 L277.7,493.1 L278.7,493.1 L279.7,493.1 L280.7,492.9 L281.7,493.0 L282.7,493.0 L283.7,493.0 L284.7,493.0 L285.7,493.1 L286.7,492.8 L287.7,493.0 L288.7,493.1 L289.7,492.9 L290.7,492.9 L291.7,492.9 L292.7,493.0 L293.7,492.9 L294.7,492.9 L295.7,493.1 L296.7,493.1 L297.7,492.9 L298.7,493.0 L299.7,493.0 L300.7,493.0 L301.7,493.1 L302.7,493.2 L303.7,493.1 L304.7,493.1 L305.7,492.9 L306.7,492.9 L307.7,493.0 L308.7,493.0 L309.7,493.0 L310.7,493.0 L311.7,493.0 L312.7,493.0 L313.7,493.1 L314.7,493.1 L315.7,493.2 L316.7,493.2 L317.7,493.3 L318.7,493.2 L319.7,493.1 L320.7,493.1 L321.7,493.1 L322.7,493.2 L323.7,493.2 L324.7,493.1 L325.7,493.1 L326.7,493.1 L327.7,493.1 L328.7,492.9 L329.7,493.0 L330.7,493.1 L331.7,492.9 L332.7,493.0 L333.7,493.0 L334.7,493.0 L335.7,493.0 L336.7,492.9 L337.7,492.9 L338.7,492.7 L339.7,492.6 L340.7,491.3 L341.7,491.9 L342.7,492.3 L343.7,492.3 L344.7,492.5 L345.7,492.8 L346.7,492.9 L347.7,492.7 L348.7,491.9 L349.7,491.9 L350.7,492.2 L351.7,492.2 L352.7,491.9 L353.7,491.9 L354.7,491.9 L355.7,492.3 L356.7,492.5 L357.7,492.0 L358.7,492.2 L359.7,492.5 L360.7,492.6 L361.7,492.7 L362.7,492.6 L363.7,492.6 L364.7,492.3 L365.7,492.6 L366.7,492.7 L367.7,492.8 L368.7,492.8 L369.7,492.8 L370.7,492.7 L371.7,492.7 L372.7,492.4 L373.7,492.5 L374.7,492.7 L375.7,492.9 L376.7,492.6 L377.7,492.6 L378.7,492.6 L379.7,492.7 L380.7,493.0 L381.7,493.0 L382.7,493.1 L383.7,493.1 L384.7,493.0 L385.7,492.8 L386.7,492.4 L387.7,492.7 L388.7,492.6 L389.7,492.7 L390.7,492.7 L391.7,492.1 L392.7,492.5 L393.7,492.5 L394.7,492.5 L395.7,492.2 L396.7,492.1 L397.7,492.2 L398.7,492.2 L399.7,491.7 L400.7,491.8 L401.7,492.0 L402.7,492.3 L403.7,492.5 L404.7,492.2 L405.7,492.4 L406.7,492.3 L407.7,492.4 L408.7,492.7 L409.7,492.7 L410.7,490.8 L411.7,491.6 L412.7,492.1 L413.7,492.4 L414.7,492.3 L415.7,492.5 L416.7,492.8 L417.7,492.1 L418.7,492.5 L419.7,492.5 L420.7,492.7 L421.7,492.5 L422.7,492.7 L423.7,492.5 L424.7,492.1 L425.7,492.2 L426.7,492.5 L427.7,492.8 L428.7,493.0 L429.7,492.7 L430.7,492.8 L431.7,492.9 L432.7,492.7 L433.7,492.4 L434.7,492.6 L435.7,492.6 L436.7,492.7 L437.7,492.6 L438.7,492.8 L439.7,492.7 L440.7,492.7 L441.7,492.8 L442.7,492.7 L443.7,492.6 L444.7,492.7 L445.7,492.8 L446.7,492.9 L447.7,492.3 L448.7,492.3 L449.7,492.4 L450.7,492.2 L451.7,492.3 L452.7,492.4 L453.7,492.5 L454.7,492.6 L455.7,492.1 L456.7,492.3 L457.7,492.3 L458.7,492.6 L459.7,492.5 L460.7,492.8 L461.7,492.8 L462.7,492.9 L463.7,492.9 L464.7,493.0 L465.7,492.9 L466.7,492.6 L467.7,492.8 L468.7,492.7 L469.7,492.6 L470.7,492.0 L471.7,491.6 L472.7,491.6 L473.7,491.6 L474.7,491.9 L475.7,492.2 L476.7,492.2 L477.7,492.1 L478.7,492.2 L479.7,492.3 L480.7,492.3 L481.7,492.5 L482.7,492.5 L483.7,492.6 L484.7,492.6 L485.7,492.7 L486.7,492.2 L487.7,492.7 L488.7,492.5 L489.7,492.8 L490.7,492.9 L491.7,492.9 L492.7,493.0 L493.7,493.0 L494.7,492.9 L495.7,492.6 L496.7,492.6 L497.7,492.6 L498.7,492.2 L499.7,490.4 L500.7,490.4 L501.7,491.2 L502.7,491.7 L503.7,491.5 L504.7,491.7 L505.7,492.3 L506.7,492.4 L507.7,492.4 L508.7,492.4 L509.7,492.7 L510.7,492.8 L511.7,492.8 L512.7,492.8 L513.7,492.5 L514.7,492.6 L515.7,492.7 L516.7,492.4 L517.7,492.5 L518.7,492.6 L519.7,492.5 L520.7,492.0 L521.7,491.8 L522.7,492.0 L523.7,492.2 L524.7,492.5 L525.7,492.7 L526.7,492.7 L527.7,492.8 L528.7,492.8 L529.7,492.7 L530.7,492.5 L531.7,492.4 L532.7,492.7 L533.7,492.9 L534.7,492.8 L535.7,492.9 L536.7,492.8 L537.7,492.8 L538.7,492.7 L539.7,492.6 L540.7,492.6 L541.7,492.4 L542.7,492.6 L543.7,492.5 L544.7,492.6 L545.7,491.9 L546.7,491.9 L547.7,491.7 L548.7,491.0 L549.7,491.4 L550.7,491.5 L551.7,491.7 L552.7,491.7 L553.7,491.0 L554.7,491.3 L555.7,491.9 L556.7,491.8 L557.7,491.2 L558.7,491.6 L559.7,491.5 L560.7,489.6 L561.7,489.7 L562.7,489.6 L563.7,490.2 L564.7,490.5 L565.7,491.1 L566.7,491.5 L567.7,491.4 L568.7,491.5 L569.7,485.5 L570.7,488.0 L571.7,489.9 L572.7,489.3 L573.7,489.6 L574.7,489.7 L575.7,490.6 L576.7,491.0 L577.7,491.2 L578.7,491.3 L579.7,491.2 L580.7,491.1 L581.7,491.6 L582.7,491.8 L583.7,491.5 L584.7,491.3 L585.7,490.6 L586.7,490.9 L587.7,490.5 L588.7,491.1 L589.7,490.5 L590.7,489.5 L591.7,489.2 L592.7,487.8 L593.7,487.5 L594.7,488.1 L595.7,488.6 L596.7,489.7 L597.7,488.3 L598.7,487.8 L599.7,487.6 L600.7,486.1 L601.7,484.9 L602.7,486.1 L603.7,488.5 L604.7,487.9 L605.7,485.7 L606.7,485.2 L607.7,483.9 L608.7,484.7 L609.7,485.9 L610.7,485.3 L611.7,484.4 L612.7,485.8 L613.7,485.9 L614.7,488.2 L615.7,488.0 L616.7,489.1 L617.7,489.6 L618.7,490.3 L619.7,490.5 L620.7,490.4 L621.7,490.2 L622.7,489.7 L623.7,490.5 L624.7,491.2 L625.7,490.9 L626.7,491.0 L627.7,490.6 L628.7,491.0 L629.7,491.1 L630.7,490.8 L631.7,488.1 L632.7,488.4 L633.7,489.0 L634.7,487.4 L635.7,483.6 L636.7,484.3 L637.7,485.9 L638.7,487.5 L639.7,488.2 L640.7,488.0 L641.7,488.2 L642.7,489.3 L643.7,488.7 L644.7,489.5 L645.7,490.2 L646.7,488.7 L647.7,488.5 L648.7,489.0 L649.7,489.4 L650.7,490.1 L651.7,490.6 L652.7,487.1 L653.7,488.1 L654.7,487.8 L655.7,488.6 L656.7,489.4 L657.7,490.0 L658.7,489.5 L659.7,490.3 L660.7,488.0 L661.7,486.8 L662.7,486.6 L663.7,487.2 L664.7,487.7 L665.7,487.6 L666.7,488.7 L667.7,488.5 L668.7,489.2 L669.7,489.7 L670.7,489.8 L671.7,489.9 L672.7,490.6 L673.7,491.0 L674.7,491.5 L675.7,491.5 L676.7,491.4 L677.7,491.4 L678.7,491.9 L679.7,491.6 L680.7,491.2 L681.7,491.1 L682.7,488.2 L683.7,489.2 L684.7,486.8 L685.7,488.1 L686.7,488.8 L687.7,489.6 L688.7,487.8 L689.7,489.2 L690.7,489.8 L691.7,489.8 L692.7,490.3 L693.7,491.1 L694.7,489.6 L695.7,490.0 L696.7,490.9 L697.7,491.1 L698.7,491.5 L699.7,491.5 L700.7,490.8 L701.7,491.0 L702.7,491.5 L703.7,491.6 L704.7,491.6 L705.7,491.5 L706.7,491.9 L707.7,492.3 L708.7,492.1 L709.7,492.3 L710.7,491.8 L711.7,491.0 L712.7,491.7 L713.7,491.3 L714.7,491.7 L715.7,491.6 L716.7,492.0 L717.7,492.1 L718.7,492.3 L719.7,492.6 L720.7,492.5 L721.7,492.7 L722.7,492.9 L723.7,492.3 L724.7,492.6 L725.7,492.6 L726.7,492.7 L727.7,492.7 L728.7,492.5 L729.7,492.7 L730.7,492.9 L731.7,492.2 L732.7,492.1 L733.7,492.0 L734.7,492.3 L735.7,492.5 L736.7,492.6 L737.7,492.8 L738.7,493.0 L739.7,492.9 L740.7,492.8 L741.7,492.6 L742.7,492.7 L743.7,492.8 L744.7,492.0 L745.7,492.3 L746.7,492.5 L747.7,492.5 L748.7,492.7 L749.7,492.8 L750.7,492.9 L751.7,493.0 L752.7,493.0 L753.7,493.0 L754.7,492.9 L755.7,492.6 L756.7,492.6 L757.7,492.7 L758.7,492.7 L759.7,492.8 L760.7,492.6 L761.7,492.9 L762.7,492.9 L763.7,492.7 L764.7,492.4 L765.7,492.6 L766.7,492.6 L767.7,492.6 L768.7,492.7 L769.7,492.7 L770.7,492.9 L771.7,492.8 L772.7,492.8 L773.7,492.4 L774.7,492.4 L775.7,492.3 L776.7,492.5 L777.7,492.1 L778.7,491.6 L779.7,491.7 L780.7,492.2 L781.7,492.6 L782.7,492.8 L783.7,492.7 L784.7,492.7 L785.7,492.8 L786.7,492.7 L787.7,492.4 L788.7,492.6 L789.7,492.8 L790.7,492.8 L791.7,492.7 L792.7,492.9 L793.7,492.9 L794.7,492.7 L795.7,492.8 L796.7,492.9 L797.7,493.1 L798.7,493.0 L799.7,493.1 L800.7,493.0 L801.7,493.1 L802.7,493.1 L803.7,493.2 L804.7,493.2 L805.7,493.3 L806.7,493.2 L807.7,493.3 L808.7,493.1 L809.7,493.1 L810.7,493.2 L811.7,493.2 L812.7,493.2 L813.7,492.8 L814.7,492.9 L815.7,492.8 L816.7,492.8 L817.7,492.9 L818.7,492.9 L819.7,493.0 L820.7,493.1 L821.7,493.0 L822.7,492.9 L823.7,493.0 L824.7,493.0 L825.7,493.1 L826.7,493.0 L827.7,493.1 L828.7,493.2 L829.7,493.1 L830.7,493.2 L831.7,493.2 L832.7,493.2 L833.7,493.2 L834.7,493.1 L835.7,493.1 L836.7,493.1 L837.7,493.1 L838.7,493.1 L839.7,493.1 L840.7,493.2 L841.7,493.1 L842.7,493.1 L843.7,493.1 L844.7,493.1 L845.7,493.2 L846.7,493.2 L847.7,493.2 L848.7,493.2 L849.7,493.0 L850.7,493.0 L851.7,493.0 L852.7,492.9 L853.7,492.9 L854.7,493.0 L855.7,492.9 L856.7,490.9 L857.7,491.2 L858.7,491.8 L859.7,492.3 L860.7,492.6 L861.7,492.6 L862.7,492.6 L863.7,492.4 L864.7,491.2 L865.7,491.8 L866.7,492.2 L867.7,492.2 L868.7,492.0 L869.7,492.5 L870.7,492.7 L871.7,492.9 L872.7,493.0 L873.7,493.0 L874.7,492.9 L875.7,492.9 L876.7,492.8 L877.7,492.9 L878.7,493.1 L879.7,492.8 L880.7,492.7 L881.7,492.9 L882.7,492.8 L883.7,493.0 L884.7,493.0 L885.7,493.1 L886.7,493.1 L887.7,493.0 L888.7,493.0 L889.7,493.1 L890.7,493.2 L891.7,493.1 L892.7,493.1 L893.7,492.6 L894.7,492.7 L895.7,492.8 L896.7,493.0 L897.7,493.0 L898.7,493.1 L899.7,493.1 L900.7,493.0 L901.7,493.0 L902.7,493.0 L903.7,493.0 L904.7,493.0 L905.7,493.0 L906.7,492.6 L907.7,492.7 L908.7,492.9 L909.7,492.9 L910.7,492.8 L911.7,492.9 L912.7,492.9 L913.7,492.9 L914.7,493.0 L915.7,493.1 L916.7,492.7 L917.7,492.8 L918.7,492.7 L919.7,492.8 L920.7,492.9 L921.7,492.9 L922.7,493.0 L923.7,493.0 L924.7,493.0 L925.7,493.1 L926.7,493.1 L927.7,493.2 L928.7,493.2 L929.7,493.1 L930.7,493.1 L931.7,493.2 L932.7,493.2 L933.7,493.2 L934.7,493.2 L935.7,493.1 L936.7,493.0 L937.7,493.0 L938.7,493.2 L939.7,493.2 L940.7,493.2 L941.7,493.1 L942.7,492.9 L943.7,493.0 L944.7,493.0 L945.7,493.1 L946.7,493.2 L947.7,493.2 L948.7,493.1 L949.7,493.2 L950.7,493.2 L951.7,493.0 L952.7,493.1 L953.7,493.1 L954.7,493.1 L955.7,493.2 L956.7,492.8 L957.7,492.8 L958.7,492.9 L959.7,492.8 L960.7,492.9 L961.7,492.2 L962.7,492.4 L963.7,492.7 L964.7,492.8 L965.7,492.8 L966.7,492.7 L967.7,492.6 L968.7,492.7 L969.7,492.6 L970.7,492.8 L971.7,492.9 L971.7,493.5 Z" fill="#5F4888"/>
<path d="M47.7,493.5 L47.7,493.1 L48.7,493.2 L49.7,493.3 L50.7,493.2 L51.7,493.2 L52.7,493.3 L53.7,493.3 L54.7,493.3 L55.7,493.2 L56.7,493.3 L57.7,493.4 L58.7,493.2 L59.7,493.2 L60.7,493.3 L61.7,493.3 L62.7,493.3 L63.7,493.3 L64.7,493.4 L65.7,493.4 L66.7,493.2 L67.7,493.3 L68.7,493.1 L69.7,492.9 L70.7,493.1 L71.7,493.1 L72.7,493.2 L73.7,493.2 L74.7,493.1 L75.7,493.1 L76.7,493.2 L77.7,493.1 L78.7,493.2 L79.7,493.2 L80.7,493.2 L81.7,493.3 L82.7,493.3 L83.7,493.3 L84.7,493.4 L85.7,493.2 L86.7,493.2 L87.7,493.3 L88.7,493.3 L89.7,493.3 L90.7,493.3 L91.7,493.3 L92.7,493.3 L93.7,493.3 L94.7,493.3 L95.7,493.3 L96.7,493.0 L97.7,492.8 L98.7,493.0 L99.7,492.8 L100.7,492.9 L101.7,493.0 L102.7,493.1 L103.7,493.1 L104.7,493.2 L105.7,493.2 L106.7,493.2 L107.7,493.2 L108.7,493.2 L109.7,493.1 L110.7,492.5 L111.7,492.8 L112.7,492.9 L113.7,493.1 L114.7,493.2 L115.7,493.2 L116.7,493.2 L117.7,493.2 L118.7,493.2 L119.7,493.3 L120.7,493.1 L121.7,493.2 L122.7,493.2 L123.7,493.3 L124.7,493.2 L125.7,493.2 L126.7,493.3 L127.7,493.3 L128.7,493.3 L129.7,493.3 L130.7,493.4 L131.7,493.4 L132.7,493.2 L133.7,493.1 L134.7,493.1 L135.7,493.1 L136.7,493.1 L137.7,493.2 L138.7,493.3 L139.7,493.3 L140.7,493.3 L141.7,493.3 L142.7,493.4 L143.7,493.3 L144.7,493.4 L145.7,493.3 L146.7,492.7 L147.7,492.9 L148.7,493.0 L149.7,492.4 L150.7,492.8 L151.7,492.9 L152.7,493.1 L153.7,493.1 L154.7,493.1 L155.7,493.2 L156.7,493.2 L157.7,493.3 L158.7,493.2 L159.7,493.2 L160.7,493.0 L161.7,493.0 L162.7,493.0 L163.7,493.2 L164.7,493.2 L165.7,493.2 L166.7,493.2 L167.7,493.2 L168.7,493.2 L169.7,493.3 L170.7,493.2 L171.7,493.3 L172.7,493.3 L173.7,493.0 L174.7,493.0 L175.7,492.9 L176.7,493.1 L177.7,493.2 L178.7,493.3 L179.7,493.2 L180.7,493.0 L181.7,493.1 L182.7,493.1 L183.7,493.2 L184.7,493.2 L185.7,493.3 L186.7,493.3 L187.7,493.1 L188.7,493.1 L189.7,493.2 L190.7,493.1 L191.7,493.2 L192.7,493.2 L193.7,493.2 L194.7,493.2 L195.7,493.2 L196.7,493.3 L197.7,493.1 L198.7,493.2 L199.7,493.2 L200.7,493.3 L201.7,493.2 L202.7,493.2 L203.7,493.2 L204.7,493.1 L205.7,493.3 L206.7,493.2 L207.7,493.2 L208.7,493.2 L209.7,493.3 L210.7,493.1 L211.7,493.2 L212.7,493.2 L213.7,493.2 L214.7,493.2 L215.7,493.2 L216.7,493.3 L217.7,493.3 L218.7,493.2 L219.7,493.3 L220.7,493.3 L221.7,493.3 L222.7,493.3 L223.7,493.2 L224.7,493.3 L225.7,493.3 L226.7,493.2 L227.7,493.2 L228.7,493.3 L229.7,493.3 L230.7,493.3 L231.7,493.3 L232.7,493.3 L233.7,493.3 L234.7,493.3 L235.7,493.3 L236.7,493.3 L237.7,493.1 L238.7,493.0 L239.7,493.1 L240.7,493.2 L241.7,493.1 L242.7,493.1 L243.7,493.2 L244.7,493.1 L245.7,493.2 L246.7,493.2 L247.7,493.2 L248.7,493.2 L249.7,493.2 L250.7,493.2 L251.7,493.2 L252.7,493.2 L253.7,493.3 L254.7,493.3 L255.7,493.1 L256.7,493.2 L257.7,493.2 L258.7,493.1 L259.7,493.2 L260.7,493.3 L261.7,493.4 L262.7,493.4 L263.7,493.4 L264.7,493.4 L265.7,493.3 L266.7,493.3 L267.7,493.3 L268.7,493.3 L269.7,493.2 L270.7,493.3 L271.7,493.4 L272.7,493.2 L273.7,493.2 L274.7,493.3 L275.7,493.2 L276.7,493.3 L277.7,493.3 L278.7,493.3 L279.7,493.3 L280.7,493.3 L281.7,493.3 L282.7,493.3 L283.7,493.3 L284.7,493.2 L285.7,493.3 L286.7,493.0 L287.7,493.1 L288.7,493.2 L289.7,493.1 L290.7,493.1 L291.7,493.0 L292.7,493.1 L293.7,493.1 L294.7,493.1 L295.7,493.2 L296.7,493.2 L297.7,493.1 L298.7,493.2 L299.7,493.2 L300.7,493.2 L301.7,493.3 L302.7,493.3 L303.7,493.3 L304.7,493.3 L305.7,493.3 L306.7,493.3 L307.7,493.3 L308.7,493.2 L309.7,493.3 L310.7,493.3 L311.7,493.3 L312.7,493.3 L313.7,493.3 L314.7,493.3 L315.7,493.4 L316.7,493.4 L317.7,493.4 L318.7,493.3 L319.7,493.3 L320.7,493.3 L321.7,493.2 L322.7,493.3 L323.7,493.3 L324.7,493.3 L325.7,493.2 L326.7,493.2 L327.7,493.3 L328.7,493.3 L329.7,493.3 L330.7,493.4 L331.7,493.2 L332.7,493.2 L333.7,493.3 L334.7,493.2 L335.7,493.3 L336.7,493.2 L337.7,493.2 L338.7,493.2 L339.7,493.2 L340.7,493.2 L341.7,493.2 L342.7,493.2 L343.7,493.0 L344.7,493.2 L345.7,493.3 L346.7,493.3 L347.7,493.2 L348.7,493.0 L349.7,493.1 L350.7,493.1 L351.7,493.0 L352.7,492.9 L353.7,492.8 L354.7,492.9 L355.7,493.0 L356.7,493.1 L357.7,492.8 L358.7,492.9 L359.7,493.1 L360.7,493.1 L361.7,493.2 L362.7,493.2 L363.7,493.2 L364.7,493.2 L365.7,493.3 L366.7,493.3 L367.7,493.3 L368.7,493.3 L369.7,493.3 L370.7,493.3 L371.7,493.3 L372.7,493.3 L373.7,493.1 L374.7,493.2 L375.7,493.2 L376.7,492.9 L377.7,493.1 L378.7,493.0 L379.7,493.1 L380.7,493.2 L381.7,493.2 L382.7,493.3 L383.7,493.3 L384.7,493.3 L385.7,493.1 L386.7,492.8 L387.7,493.0 L388.7,492.9 L389.7,493.0 L390.7,493.1 L391.7,493.2 L392.7,493.3 L393.7,493.3 L394.7,493.3 L395.7,493.3 L396.7,493.3 L397.7,493.3 L398.7,493.3 L399.7,493.2 L400.7,493.2 L401.7,493.3 L402.7,493.2 L403.7,493.2 L404.7,493.2 L405.7,493.3 L406.7,493.2 L407.7,493.2 L408.7,493.2 L409.7,493.2 L410.7,492.5 L411.7,492.8 L412.7,493.0 L413.7,493.1 L414.7,493.2 L415.7,493.3 L416.7,493.3 L417.7,493.3 L418.7,493.3 L419.7,493.3 L420.7,493.3 L421.7,493.0 L422.7,493.1 L423.7,493.2 L424.7,493.1 L425.7,493.0 L426.7,493.1 L427.7,493.2 L428.7,493.3 L429.7,493.3 L430.7,493.4 L431.7,493.4 L432.7,493.4 L433.7,493.4 L434.7,493.4 L435.7,493.4 L436.7,493.4 L437.7,493.3 L438.7,493.3 L439.7,493.3 L440.7,493.3 L441.7,493.3 L442.7,493.3 L443.7,493.2 L444.7,493.2 L445.7,493.3 L446.7,493.3 L447.7,493.2 L448.7,493.1 L449.7,493.2 L450.7,493.2 L451.7,493.0 L452.7,493.0 L453.7,493.0 L454.7,493.2 L455.7,492.8 L456.7,492.9 L457.7,493.1 L458.7,493.2 L459.7,493.1 L460.7,493.2 L461.7,493.2 L462.7,493.2 L463.7,493.3 L464.7,493.3 L465.7,493.3 L466.7,492.9 L467.7,493.0 L468.7,493.0 L469.7,493.0 L470.7,492.5 L471.7,492.4 L472.7,492.5 L473.7,492.3 L474.7,492.5 L475.7,492.6 L476.7,492.9 L477.7,492.6 L478.7,492.6 L479.7,492.7 L480.7,492.7 L481.7,493.0 L482.7,493.1 L483.7,493.0 L484.7,492.9 L485.7,493.0 L486.7,492.6 L487.7,493.0 L488.7,493.0 L489.7,493.1 L490.7,493.2 L491.7,493.2 L492.7,493.2 L493.7,493.2 L494.7,493.2 L495.7,492.9 L496.7,492.9 L497.7,493.0 L498.7,492.5 L499.7,490.8 L500.7,491.0 L501.7,491.8 L502.7,492.2 L503.7,492.3 L504.7,492.4 L505.7,492.8 L506.7,492.8 L507.7,493.0 L508.7,492.9 L509.7,493.0 L510.7,493.1 L511.7,493.1 L512.7,493.1 L513.7,493.2 L514.7,493.2 L515.7,493.2 L516.7,492.8 L517.7,493.0 L518.7,493.1 L519.7,493.0 L520.7,492.7 L521.7,492.7 L522.7,492.8 L523.7,492.9 L524.7,493.1 L525.7,493.1 L526.7,493.0 L527.7,493.1 L528.7,493.2 L529.7,493.2 L530.7,493.3 L531.7,493.3 L532.7,493.3 L533.7,493.3 L534.7,493.3 L535.7,493.3 L536.7,493.2 L537.7,493.2 L538.7,493.0 L539.7,493.0 L540.7,493.0 L541.7,492.9 L542.7,493.1 L543.7,492.9 L544.7,492.9 L545.7,493.0 L546.7,493.0 L547.7,492.9 L548.7,492.8 L549.7,493.0 L550.7,492.8 L551.7,492.8 L552.7,493.1 L553.7,492.3 L554.7,492.5 L555.7,492.8 L556.7,492.9 L557.7,492.3 L558.7,492.5 L559.7,492.2 L560.7,490.2 L561.7,490.2 L562.7,490.7 L563.7,491.3 L564.7,491.5 L565.7,491.9 L566.7,492.3 L567.7,492.3 L568.7,492.2 L569.7,491.5 L570.7,491.9 L571.7,492.2 L572.7,492.5 L573.7,492.4 L574.7,492.0 L575.7,492.3 L576.7,492.5 L577.7,492.5 L578.7,492.6 L579.7,492.4 L580.7,492.4 L581.7,492.5 L582.7,492.8 L583.7,492.8 L584.7,492.5 L585.7,491.7 L586.7,492.0 L587.7,491.7 L588.7,492.1 L589.7,491.4 L590.7,491.1 L591.7,491.0 L592.7,491.4 L593.7,491.7 L594.7,491.8 L595.7,491.7 L596.7,492.1 L597.7,491.5 L598.7,490.4 L599.7,490.7 L600.7,489.7 L601.7,489.9 L602.7,490.9 L603.7,491.6 L604.7,490.6 L605.7,488.0 L606.7,487.5 L607.7,486.4 L608.7,486.8 L609.7,487.8 L610.7,487.1 L611.7,488.0 L612.7,488.6 L613.7,488.5 L614.7,489.9 L615.7,490.6 L616.7,491.0 L617.7,491.2 L618.7,491.8 L619.7,492.0 L620.7,492.0 L621.7,491.9 L622.7,491.5 L623.7,491.7 L624.7,492.2 L625.7,492.2 L626.7,492.2 L627.7,492.2 L628.7,492.3 L629.7,492.4 L630.7,492.4 L631.7,489.3 L632.7,489.5 L633.7,490.2 L634.7,489.1 L635.7,485.0 L636.7,486.2 L637.7,487.5 L638.7,488.9 L639.7,489.5 L640.7,489.1 L641.7,489.3 L642.7,490.1 L643.7,490.7 L644.7,491.0 L645.7,491.5 L646.7,490.1 L647.7,490.5 L648.7,491.1 L649.7,491.6 L650.7,491.9 L651.7,492.1 L652.7,491.6 L653.7,491.4 L654.7,492.0 L655.7,491.7 L656.7,491.8 L657.7,491.9 L658.7,491.3 L659.7,491.6 L660.7,489.5 L661.7,488.0 L662.7,487.6 L663.7,488.5 L664.7,489.3 L665.7,489.1 L666.7,489.9 L667.7,490.2 L668.7,490.6 L669.7,490.9 L670.7,491.0 L671.7,491.3 L672.7,491.8 L673.7,492.1 L674.7,492.4 L675.7,492.6 L676.7,492.7 L677.7,492.5 L678.7,492.8 L679.7,492.7 L680.7,492.7 L681.7,492.2 L682.7,489.5 L683.7,490.4 L684.7,491.2 L685.7,491.4 L686.7,491.1 L687.7,491.8 L688.7,491.6 L689.7,492.1 L690.7,492.4 L691.7,492.3 L692.7,492.2 L693.7,492.4 L694.7,491.7 L695.7,492.1 L696.7,492.2 L697.7,492.4 L698.7,492.6 L699.7,492.7 L700.7,493.0 L701.7,492.7 L702.7,492.8 L703.7,492.6 L704.7,492.5 L705.7,492.3 L706.7,492.6 L707.7,492.9 L708.7,492.8 L709.7,492.9 L710.7,492.6 L711.7,492.7 L712.7,492.9 L713.7,493.1 L714.7,493.1 L715.7,492.9 L716.7,493.0 L717.7,493.1 L718.7,493.1 L719.7,493.1 L720.7,493.1 L721.7,493.2 L722.7,493.2 L723.7,493.2 L724.7,493.2 L725.7,493.3 L726.7,493.3 L727.7,493.2 L728.7,493.3 L729.7,493.2 L730.7,493.2 L731.7,493.2 L732.7,493.1 L733.7,493.2 L734.7,493.2 L735.7,493.3 L736.7,493.3 L737.7,493.3 L738.7,493.3 L739.7,493.3 L740.7,493.3 L741.7,493.4 L742.7,493.3 L743.7,493.3 L744.7,493.3 L745.7,493.3 L746.7,493.3 L747.7,493.2 L748.7,493.3 L749.7,493.3 L750.7,493.3 L751.7,493.4 L752.7,493.3 L753.7,493.3 L754.7,493.2 L755.7,493.0 L756.7,492.9 L757.7,493.0 L758.7,493.1 L759.7,493.2 L760.7,493.1 L761.7,493.2 L762.7,493.2 L763.7,493.2 L764.7,493.1 L765.7,493.2 L766.7,493.1 L767.7,493.2 L768.7,493.2 L769.7,493.2 L770.7,493.3 L771.7,493.3 L772.7,493.2 L773.7,493.0 L774.7,493.0 L775.7,492.8 L776.7,492.9 L777.7,492.9 L778.7,492.8 L779.7,492.7 L780.7,492.8 L781.7,493.0 L782.7,493.1 L783.7,493.0 L784.7,493.1 L785.7,493.1 L786.7,493.1 L787.7,493.0 L788.7,493.0 L789.7,493.2 L790.7,493.1 L791.7,493.0 L792.7,493.2 L793.7,493.2 L794.7,493.2 L795.7,493.2 L796.7,493.2 L797.7,493.3 L798.7,493.3 L799.7,493.4 L800.7,493.3 L801.7,493.3 L802.7,493.3 L803.7,493.3 L804.7,493.4 L805.7,493.4 L806.7,493.4 L807.7,493.4 L808.7,493.2 L809.7,493.3 L810.7,493.3 L811.7,493.3 L812.7,493.3 L813.7,493.3 L814.7,493.4 L815.7,493.3 L816.7,493.2 L817.7,493.2 L818.7,493.1 L819.7,493.2 L820.7,493.3 L821.7,493.2 L822.7,493.3 L823.7,493.3 L824.7,493.3 L825.7,493.3 L826.7,493.2 L827.7,493.3 L828.7,493.4 L829.7,493.3 L830.7,493.3 L831.7,493.4 L832.7,493.4 L833.7,493.4 L834.7,493.4 L835.7,493.4 L836.7,493.3 L837.7,493.4 L838.7,493.3 L839.7,493.4 L840.7,493.3 L841.7,493.4 L842.7,493.4 L843.7,493.4 L844.7,493.4 L845.7,493.4 L846.7,493.4 L847.7,493.4 L848.7,493.4 L849.7,493.4 L850.7,493.3 L851.7,493.3 L852.7,493.3 L853.7,493.3 L854.7,493.3 L855.7,493.3 L856.7,493.3 L857.7,493.4 L858.7,493.4 L859.7,493.3 L860.7,493.4 L861.7,493.4 L862.7,493.3 L863.7,493.0 L864.7,493.0 L865.7,493.1 L866.7,493.1 L867.7,493.2 L868.7,493.2 L869.7,493.3 L870.7,493.3 L871.7,493.3 L872.7,493.3 L873.7,493.3 L874.7,493.4 L875.7,493.3 L876.7,493.3 L877.7,493.4 L878.7,493.4 L879.7,493.3 L880.7,493.3 L881.7,493.4 L882.7,493.2 L883.7,493.3 L884.7,493.3 L885.7,493.3 L886.7,493.4 L887.7,493.3 L888.7,493.3 L889.7,493.3 L890.7,493.3 L891.7,493.3 L892.7,493.2 L893.7,492.8 L894.7,493.0 L895.7,493.1 L896.7,493.2 L897.7,493.2 L898.7,493.3 L899.7,493.3 L900.7,493.2 L901.7,493.2 L902.7,493.2 L903.7,493.2 L904.7,493.1 L905.7,493.2 L906.7,493.0 L907.7,493.1 L908.7,493.2 L909.7,493.2 L910.7,493.1 L911.7,493.2 L912.7,493.2 L913.7,493.2 L914.7,493.2 L915.7,493.3 L916.7,493.3 L917.7,493.3 L918.7,493.3 L919.7,493.3 L920.7,493.3 L921.7,493.3 L922.7,493.3 L923.7,493.4 L924.7,493.3 L925.7,493.3 L926.7,493.3 L927.7,493.4 L928.7,493.4 L929.7,493.3 L930.7,493.3 L931.7,493.3 L932.7,493.4 L933.7,493.4 L934.7,493.3 L935.7,493.3 L936.7,493.3 L937.7,493.3 L938.7,493.4 L939.7,493.4 L940.7,493.4 L941.7,493.3 L942.7,493.0 L943.7,493.2 L944.7,493.2 L945.7,493.2 L946.7,493.3 L947.7,493.3 L948.7,493.3 L949.7,493.3 L950.7,493.3 L951.7,493.3 L952.7,493.4 L953.7,493.4 L954.7,493.4 L955.7,493.4 L956.7,493.4 L957.7,493.3 L958.7,493.3 L959.7,493.4 L960.7,493.4 L961.7,492.6 L962.7,492.8 L963.7,493.1 L964.7,493.1 L965.7,493.2 L966.7,493.2 L967.7,493.1 L968.7,493.2 L969.7,493.2 L970.7,493.3 L971.7,493.3 L971.7,493.5 Z" fill="#4B4664"/>
<g opacity="0.225"><text x="365" y="317" font-family="Liberation Sans, sans-serif" font-size="64.5" letter-spacing="1.3" fill="#808080" stroke="#808080" stroke-width="1.5" stroke-linejoin="round">glassnode</text></g>
<path d="M47.7,418.1 L49.1,416.7 L50.5,415.7 L52.1,417.3 L53.8,418.7 L55.2,417.7 L56.6,415.7 L58.2,416.7 L59.9,414.7 L61.5,412.6 L62.3,405.5 L62.9,397.4 L63.9,394.3 L65.1,392.3 L66.4,390.3 L68.0,387.6 L69.2,388.8 L70.4,392.3 L72.1,391.3 L73.7,389.6 L75.5,387.6 L77.6,386.2 L79.0,384.2 L80.6,382.7 L81.8,387.2 L83.0,389.2 L84.7,388.2 L86.3,387.2 L87.7,384.2 L89.1,381.1 L90.8,378.1 L92.4,376.0 L93.6,371.9 L94.8,356.7 L96.1,350.6 L97.3,344.5 L98.9,340.0 L100.9,350.6 L102.6,340.4 L104.0,344.5 L106.0,340.4 L109.1,332.3 L111.1,336.3 L113.1,333.3 L115.2,342.4 L116.8,346.5 L118.8,343.5 L120.3,346.5 L123.3,338.4 L125.3,332.3 L127.4,326.2 L129.0,325.2 L130.4,318.0 L131.8,309.9 L133.5,303.8 L134.9,290.0 L135.9,301.8 L137.1,295.7 L138.6,309.9 L139.6,311.9 L141.2,300.8 L142.6,307.9 L144.0,298.7 L145.7,293.6 L147.3,304.8 L148.7,300.8 L150.1,309.9 L151.4,316.0 L152.4,324.1 L153.8,313.0 L155.4,310.9 L156.9,316.0 L158.3,320.1 L159.9,321.1 L161.5,324.5 L163.6,323.1 L165.0,316.0 L167.0,307.9 L169.1,301.8 L171.1,298.7 L173.1,302.8 L174.5,303.8 L176.2,317.0 L178.2,311.9 L179.8,316.0 L181.3,308.9 L183.3,316.0 L185.3,314.0 L187.4,320.1 L189.4,323.7 L191.4,321.1 L193.5,312.3 L195.5,313.0 L197.5,314.0 L199.6,317.0 L201.6,314.0 L204.6,315.0 L206.7,316.0 L208.7,317.0 L210.3,320.1 L211.1,332.3 L212.8,340.4 L214.8,338.4 L216.8,340.0 L218.9,337.4 L220.9,342.0 L222.9,336.3 L224.0,335.3 L226.0,338.4 L228.0,337.4 L230.1,341.4 L232.1,343.5 L234.1,340.4 L235.7,349.6 L237.2,336.3 L238.8,324.1 L240.8,327.2 L243.3,326.2 L245.3,325.2 L247.3,326.2 L249.4,331.3 L252.0,331.9 L254.0,333.3 L256.1,336.3 L258.1,344.5 L260.1,350.6 L262.2,356.3 L263.8,352.6 L265.2,349.6 L266.6,346.5 L268.3,351.6 L270.3,352.6 L272.3,348.9 L274.4,350.6 L276.4,353.6 L278.4,354.6 L280.5,357.7 L282.1,360.7 L283.5,354.6 L285.6,350.6 L287.6,352.2 L289.6,353.6 L291.7,351.6 L293.7,354.6 L295.1,356.7 L296.7,350.6 L298.8,342.4 L300.8,340.4 L301.8,343.5 L303.9,338.4 L305.3,332.3 L306.9,331.3 L308.9,331.9 L310.6,335.3 L312.2,336.3 L314.0,333.3 L316.1,327.2 L318.1,325.2 L320.1,324.1 L322.2,326.2 L324.2,323.1 L326.2,318.0 L328.3,316.0 L330.3,315.0 L332.3,317.0 L333.7,321.1 L335.4,318.0 L337.0,322.1 L338.4,321.1 L340.0,320.1 L341.5,328.2 L343.1,333.3 L344.5,334.3 L345.9,332.3 L347.6,329.2 L349.2,328.2 L350.6,335.3 L352.0,342.4 L353.7,345.5 L354.7,352.6 L356.1,360.7 L357.3,368.9 L358.1,377.0 L359.0,393.3 L359.8,385.1 L360.6,377.0 L361.4,371.9 L362.8,376.0 L363.8,364.8 L365.5,361.8 L366.9,364.8 L368.3,375.4 L369.9,368.9 L371.6,360.7 L373.6,359.7 L375.0,354.6 L376.4,352.6 L378.1,356.7 L379.7,359.7 L381.1,357.7 L383.2,361.8 L385.2,355.7 L386.6,353.6 L388.2,358.7 L390.3,350.6 L392.3,346.5 L394.3,339.4 L395.4,333.3 L396.8,330.2 L398.4,331.3 L400.4,325.2 L402.1,319.1 L403.5,322.1 L404.9,333.3 L406.5,324.1 L408.2,321.1 L409.6,325.2 L411.0,321.1 L412.6,323.1 L414.7,329.2 L416.7,332.3 L418.7,327.2 L420.8,323.1 L422.8,318.0 L424.4,322.1 L426.5,321.1 L428.9,320.1 L430.9,325.2 L433.0,324.1 L435.0,325.8 L437.0,324.1 L439.1,326.2 L441.1,323.1 L443.1,327.2 L445.2,328.6 L447.2,327.8 L450.3,327.2 L453.3,325.2 L456.4,326.2 L459.4,327.2 L462.0,327.2 L464.1,325.2 L466.1,323.1 L468.1,318.0 L469.2,311.9 L470.2,308.9 L471.8,306.9 L473.2,304.8 L474.6,301.4 L475.9,305.8 L477.3,302.8 L478.7,300.8 L480.3,301.8 L482.0,300.1 L483.4,302.8 L484.8,298.7 L486.4,297.7 L488.1,296.7 L489.5,299.3 L490.9,300.8 L492.5,299.7 L494.2,301.8 L495.6,303.4 L497.0,301.4 L498.6,303.8 L500.1,299.7 L501.3,299.3 L501.9,307.9 L502.7,315.0 L504.3,316.0 L505.8,314.0 L507.2,316.0 L508.8,315.0 L510.8,313.0 L512.5,309.9 L514.5,308.3 L515.9,308.9 L517.5,311.9 L519.0,315.6 L520.6,314.0 L522.0,310.9 L523.4,310.3 L525.1,309.9 L526.7,311.9 L528.1,313.0 L529.5,314.0 L531.2,310.9 L532.8,307.9 L534.4,305.4 L536.0,303.8 L537.7,302.8 L539.3,304.8 L540.9,300.8 L542.4,295.7 L543.4,291.6 L545.0,289.6 L546.4,288.6 L547.8,286.5 L549.5,285.5 L551.1,283.5 L552.5,282.5 L553.5,284.5 L554.8,281.4 L556.0,275.3 L556.8,270.3 L558.0,275.3 L559.2,272.3 L560.4,269.2 L561.7,271.3 L562.9,266.2 L564.1,267.2 L565.3,262.1 L566.5,257.0 L567.4,255.0 L568.8,250.9 L570.8,248.9 L572.4,252.9 L573.9,250.9 L574.9,257.0 L575.9,252.9 L576.9,245.8 L578.3,246.8 L580.0,245.8 L581.6,247.9 L583.0,246.8 L584.4,250.9 L586.1,252.9 L588.1,246.8 L589.7,240.7 L591.2,232.6 L592.2,226.5 L593.2,224.5 L594.6,227.5 L595.8,224.5 L597.3,222.4 L598.7,216.3 L599.9,212.3 L601.3,207.2 L602.3,203.1 L603.6,198.0 L604.8,191.9 L606.0,188.9 L607.2,183.8 L608.4,173.6 L609.7,166.5 L610.7,165.5 L611.7,170.6 L612.5,177.7 L613.5,184.8 L614.5,173.6 L615.6,170.6 L616.6,177.7 L618.2,176.7 L619.6,180.8 L620.6,189.9 L621.2,196.0 L622.7,188.9 L624.3,190.9 L625.7,197.0 L626.7,187.9 L628.4,183.8 L629.8,186.9 L631.2,179.7 L632.8,174.7 L634.5,170.6 L635.5,154.9 L636.9,152.3 L638.5,150.3 L640.0,148.2 L641.6,146.2 L643.0,144.2 L644.3,138.7 L645.5,131.6 L646.7,128.5 L647.5,127.9 L648.3,134.6 L649.2,143.8 L650.4,145.8 L651.6,150.9 L652.8,152.9 L654.0,143.8 L655.3,144.8 L656.1,141.7 L657.3,143.8 L658.5,138.7 L659.7,134.6 L660.9,129.5 L662.2,125.5 L663.4,122.4 L664.2,121.0 L665.0,125.5 L665.8,130.5 L667.0,125.5 L668.3,126.5 L669.5,125.9 L670.7,128.5 L671.9,132.6 L673.1,135.6 L674.1,138.7 L675.2,133.6 L676.4,130.5 L677.6,127.5 L678.8,125.5 L680.0,124.5 L681.3,125.5 L682.5,127.1 L683.7,125.5 L684.9,129.5 L686.1,126.5 L687.3,125.5 L688.6,122.4 L689.8,117.8 L691.0,116.9 L692.2,118.4 L693.4,122.4 L694.5,126.5 L695.5,131.6 L696.7,131.2 L697.9,136.6 L699.1,141.7 L700.3,144.8 L701.6,138.7 L702.8,133.6 L703.6,134.6 L704.8,127.5 L706.0,127.1 L707.3,130.5 L708.1,135.6 L708.9,128.5 L710.1,127.5 L711.3,125.5 L712.5,128.5 L713.8,130.5 L714.8,142.7 L715.8,143.8 L717.0,148.8 L718.2,154.9 L719.9,162.5 L720.9,173.6 L721.7,166.5 L722.9,174.7 L724.1,181.8 L725.3,171.6 L726.6,170.6 L727.8,177.7 L729.0,182.8 L730.2,175.7 L731.4,173.6 L733.1,171.2 L734.7,178.7 L735.9,182.8 L737.5,185.8 L738.8,176.7 L740.0,175.7 L741.2,178.7 L742.4,167.5 L743.6,166.5 L744.9,172.6 L746.1,178.7 L747.3,180.8 L748.5,186.9 L749.3,193.0 L750.6,183.8 L751.8,191.9 L753.0,185.8 L754.2,182.8 L755.4,179.7 L756.7,182.8 L757.9,184.8 L759.5,182.2 L761.1,185.8 L762.6,186.9 L764.0,188.9 L765.6,184.8 L767.2,188.9 L768.7,191.9 L770.1,194.0 L771.7,193.0 L773.1,199.1 L774.1,194.0 L775.4,188.9 L776.8,183.8 L777.8,177.7 L779.0,170.6 L780.0,165.1 L781.6,162.0 L783.0,168.1 L784.5,172.2 L786.1,164.1 L787.7,157.0 L789.1,153.9 L790.6,155.9 L792.2,149.8 L793.4,148.8 L794.6,151.9 L795.8,154.9 L797.1,150.9 L798.3,146.8 L799.5,144.8 L800.7,143.8 L801.9,145.8 L803.2,144.8 L804.4,148.8 L805.6,145.8 L806.8,145.4 L808.0,148.8 L809.3,146.8 L810.5,143.8 L811.7,140.7 L812.9,138.7 L813.7,137.7 L814.5,147.8 L815.8,151.9 L817.0,153.9 L818.2,152.9 L819.4,154.3 L820.6,148.8 L821.8,147.4 L823.1,148.8 L824.3,147.8 L825.1,155.9 L826.3,165.1 L827.5,158.0 L828.3,154.9 L829.6,160.0 L830.8,163.0 L832.4,164.1 L833.6,155.9 L834.8,147.8 L836.1,146.8 L837.3,139.7 L838.5,132.6 L839.7,134.6 L840.9,132.6 L842.2,130.5 L843.4,131.6 L844.6,128.5 L845.8,125.5 L847.0,120.4 L848.3,121.0 L849.5,117.3 L850.7,113.7 L851.9,116.3 L853.1,121.4 L854.3,120.4 L855.6,119.0 L856.8,125.1 L858.0,120.4 L859.2,118.4 L860.4,121.0 L861.7,119.4 L862.9,117.8 L864.1,121.4 L865.3,118.4 L866.5,111.3 L867.8,110.2 L869.0,114.3 L870.2,115.7 L871.4,114.3 L872.6,114.9 L873.8,120.4 L875.1,124.5 L875.9,128.5 L877.1,123.4 L878.3,125.5 L879.5,128.5 L880.8,125.5 L881.6,134.6 L882.8,130.5 L884.0,127.5 L885.2,127.9 L886.4,129.5 L887.7,134.6 L888.9,144.8 L890.1,143.8 L891.3,142.1 L892.5,145.8 L893.8,143.3 L895.0,148.8 L896.2,144.8 L897.4,146.8 L898.6,149.8 L899.8,150.9 L901.1,148.8 L902.3,149.4 L903.5,145.8 L904.7,141.7 L905.9,141.3 L907.2,141.3 L908.4,142.7 L909.6,148.8 L910.8,150.9 L912.0,149.4 L913.3,148.8 L914.5,151.9 L915.7,155.9 L916.9,160.0 L918.1,163.0 L919.3,162.0 L920.6,161.0 L921.8,158.0 L923.0,160.0 L924.2,159.0 L925.4,160.4 L926.7,163.0 L927.9,165.1 L929.1,172.2 L930.3,181.3 L931.5,177.3 L932.8,176.3 L934.0,174.6 L935.2,173.2 L936.4,172.2 L937.6,171.8 L938.8,171.2 L940.1,175.8 L941.3,165.1 L942.5,163.0 L943.7,158.0 L944.9,155.9 L946.2,157.0 L947.4,160.0 L948.6,161.6 L949.8,155.9 L951.0,155.5 L952.3,161.0 L953.5,167.1 L954.7,168.1 L955.9,175.2 L957.1,172.2 L958.3,173.2 L959.6,170.2 L960.8,171.2 L962.0,158.0 L963.2,156.3 L964.4,162.0 L965.7,170.2 L966.9,171.8 L968.1,168.1 L969.3,163.0 L970.5,169.8 L972.0,170.2" fill="none" stroke="#8c8c8c" stroke-width="0.9" stroke-linejoin="round"/>
<line x1="62.0" x2="62.0" y1="494" y2="497" stroke="#ddd" stroke-width="1"/>
<text x="62.0" y="508" text-anchor="middle" font-family="Liberation Sans, sans-serif" font-size="9.0" fill="#444b55">Apr '19</text>
<line x1="139.0" x2="139.0" y1="494" y2="497" stroke="#ddd" stroke-width="1"/>
<text x="139.0" y="508" text-anchor="middle" font-family="Liberation Sans, sans-serif" font-size="9.0" fill="#444b55">Jul '19</text>
<line x1="216.5" x2="216.5" y1="494" y2="497" stroke="#ddd" stroke-width="1"/>
<text x="216.5" y="508" text-anchor="middle" font-family="Liberation Sans, sans-serif" font-size="9.0" fill="#444b55">Oct '19</text>
<line x1="294.5" x2="294.5" y1="494" y2="497" stroke="#ddd" stroke-width="1"/>
<text x="294.5" y="508" text-anchor="middle" font-family="Liberation Sans, sans-serif" font-size="9.0" fill="#444b55">Jan '20</text>
<line x1="371.5" x2="371.5" y1="494" y2="497" stroke="#ddd" stroke-width="1"/>
<text x="371.5" y="508" text-anchor="middle" font-family="Liberation Sans, sans-serif" font-size="9.0" fill="#444b55">Apr '20</text>
<line x1="448.5" x2="448.5" y1="494" y2="497" stroke="#ddd" stroke-width="1"/>
<text x="448.5" y="508" text-anchor="middle" font-family="Liberation Sans, sans-serif" font-size="9.0" fill="#444b55">Jul '20</text>
<line x1="526.0" x2="526.0" y1="494" y2="497" stroke="#ddd" stroke-width="1"/>
<text x="526.0" y="508" text-anchor="middle" font-family="Liberation Sans, sans-serif" font-size="9.0" fill="#444b55">Oct '20</text>
<line x1="603.5" x2="603.5" y1="494" y2="497" stroke="#ddd" stroke-width="1"/>
<text x="603.5" y="508" text-anchor="middle" font-family="Liberation Sans, sans-serif" font-size="9.0" fill="#444b55">Jan '21</text>
<line x1="680.0" x2="680.0" y1="494" y2="497" stroke="#ddd" stroke-width="1"/>
<text x="680.0" y="508" text-anchor="middle" font-family="Liberation Sans, sans-serif" font-size="9.0" fill="#444b55">Apr '21</text>
<line x1="757.0" x2="757.0" y1="494" y2="497" stroke="#ddd" stroke-width="1"/>
<text x="757.0" y="508" text-anchor="middle" font-family="Liberation Sans, sans-serif" font-size="9.0" fill="#444b55">Jul '21</text>
<line x1="834.5" x2="834.5" y1="494" y2="497" stroke="#ddd" stroke-width="1"/>
<text x="834.5" y="508" text-anchor="middle" font-family="Liberation Sans, sans-serif" font-size="9.0" fill="#444b55">Oct '21</text>
<line x1="912.5" x2="912.5" y1="494" y2="497" stroke="#ddd" stroke-width="1"/>
<text x="912.5" y="508" text-anchor="middle" font-family="Liberation Sans, sans-serif" font-size="9.0" fill="#444b55">Jan '22</text>
<text x="31" y="493.1" font-family="Liberation Sans, sans-serif" font-size="8.8" fill="#dd9a55" stroke="#dd9a55" stroke-width="0.3" textLength="11.3" lengthAdjust="spacingAndGlyphs">0%</text>
<text x="31" y="448.5" font-family="Liberation Sans, sans-serif" font-size="8.8" fill="#dd9a55" stroke="#dd9a55" stroke-width="0.3" textLength="11.3" lengthAdjust="spacingAndGlyphs">2%</text>
<text x="31" y="403.9" font-family="Liberation Sans, sans-serif" font-size="8.8" fill="#dd9a55" stroke="#dd9a55" stroke-width="0.3" textLength="11.3" lengthAdjust="spacingAndGlyphs">4%</text>
<text x="31" y="359.2" font-family="Liberation Sans, sans-serif" font-size="8.8" fill="#dd9a55" stroke="#dd9a55" stroke-width="0.3" textLength="11.3" lengthAdjust="spacingAndGlyphs">6%</text>
<text x="31" y="314.6" font-family="Liberation Sans, sans-serif" font-size="8.8" fill="#dd9a55" stroke="#dd9a55" stroke-width="0.3" textLength="11.3" lengthAdjust="spacingAndGlyphs">8%</text>
<text x="31" y="270.0" font-family="Liberation Sans, sans-serif" font-size="8.8" fill="#dd9a55" stroke="#dd9a55" stroke-width="0.3" textLength="15.6" lengthAdjust="spacingAndGlyphs">10%</text>
<text x="31" y="225.4" font-family="Liberation Sans, sans-serif" font-size="8.8" fill="#dd9a55" stroke="#dd9a55" stroke-width="0.3" textLength="15.6" lengthAdjust="spacingAndGlyphs">12%</text>
<text x="31" y="180.8" font-family="Liberation Sans, sans-serif" font-size="8.8" fill="#dd9a55" stroke="#dd9a55" stroke-width="0.3" textLength="15.6" lengthAdjust="spacingAndGlyphs">14%</text>
<text x="31" y="136.1" font-family="Liberation Sans, sans-serif" font-size="8.8" fill="#dd9a55" stroke="#dd9a55" stroke-width="0.3" textLength="15.6" lengthAdjust="spacingAndGlyphs">16%</text>
<text x="974.5" y="166.5" font-family="Liberation Sans, sans-serif" font-size="9" fill="#50555f" stroke="#50555f" stroke-width="0.2">$40k</text>
<text x="973.5" y="317.6" font-family="Liberation Sans, sans-serif" font-size="9" fill="#50555f" stroke="#50555f" stroke-width="0.2">$10k</text>
<text x="979.0" y="373.7" font-family="Liberation Sans, sans-serif" font-size="9" fill="#50555f" stroke="#50555f" stroke-width="0.2">$6k</text>
<text x="979.0" y="492.2" font-family="Liberation Sans, sans-serif" font-size="9" fill="#50555f" stroke="#50555f" stroke-width="0.2">$2k</text>
<line x1="49.3" x2="972" y1="314.4" y2="314.4" stroke="#1a1a1a" stroke-width="1.2" stroke-dasharray="4.1 3.37" stroke-dashoffset="1.6"/>
<line x1="49.3" x2="972" y1="360.2" y2="360.2" stroke="#1a1a1a" stroke-width="1.2" stroke-dasharray="4.1 3.37" stroke-dashoffset="1.6"/>
<line x1="49.3" x2="972" y1="403.8" y2="403.8" stroke="#1a1a1a" stroke-width="1.2" stroke-dasharray="4.1 3.37" stroke-dashoffset="1.6"/>
<line x1="49.3" x2="972" y1="449.0" y2="449.0" stroke="#1a1a1a" stroke-width="1.2" stroke-dasharray="4.1 3.37" stroke-dashoffset="1.6"/>
<text x="427" y="310.5" font-family="Liberation Sans, sans-serif" font-size="14" font-weight="bold" font-style="italic" fill="#111">8%</text>
<text x="427" y="355.5" font-family="Liberation Sans, sans-serif" font-size="14" font-weight="bold" font-style="italic" fill="#111">6%</text>
<text x="427" y="400.0" font-family="Liberation Sans, sans-serif" font-size="14" font-weight="bold" font-style="italic" fill="#111">4%</text>
<text x="427" y="445.0" font-family="Liberation Sans, sans-serif" font-size="14" font-weight="bold" font-style="italic" fill="#111">2%</text>
<ellipse cx="965" cy="389" rx="10.2" ry="67.5" fill="rgba(245,0,87,0.16)" stroke="#f50057" stroke-width="1.4" stroke-dasharray="3.5 2.5"/>
<text x="896" y="239" text-anchor="middle" font-family="Liberation Sans, sans-serif" font-size="17.3" font-weight="bold" fill="#f50057" textLength="203" lengthAdjust="spacingAndGlyphs">Uptick in Spent Volume</text>
<text x="896" y="260" text-anchor="middle" font-family="Liberation Sans, sans-serif" font-size="17.3" font-weight="bold" fill="#f50057" textLength="131.5" lengthAdjust="spacingAndGlyphs">1mth and Older</text>
<text x="896" y="282.2" text-anchor="middle" font-family="Liberation Sans, sans-serif" font-size="17.3" font-style="italic" fill="#f50057" textLength="79" lengthAdjust="spacingAndGlyphs">~5% 6m+</text>
<text x="896" y="303.6" text-anchor="middle" font-family="Liberation Sans, sans-serif" font-size="17.3" font-style="italic" fill="#f50057" textLength="114" lengthAdjust="spacingAndGlyphs">~2.5% 1m-6m</text>
<circle cx="293.0" cy="89.8" r="3" fill="#FFF59A"/>
<text x="300.0" y="93" font-family="Liberation Sans, sans-serif" font-size="9" fill="#d8d8d8" stroke="#d8d8d8" stroke-width="0.32" textLength="8.8" lengthAdjust="spacingAndGlyphs">1h</text>
<circle cx="326.8" cy="89.8" r="3" fill="#F6D743"/>
<text x="333.8" y="93" font-family="Liberation Sans, sans-serif" font-size="9" fill="#d8d8d8" stroke="#d8d8d8" stroke-width="0.32" textLength="29.5" lengthAdjust="spacingAndGlyphs">1h-24h</text>
<circle cx="381.3" cy="89.8" r="3" fill="#F9B11F"/>
<text x="388.3" y="93" font-family="Liberation Sans, sans-serif" font-size="9" fill="#d8d8d8" stroke="#d8d8d8" stroke-width="0.32" textLength="25.7" lengthAdjust="spacingAndGlyphs">1d-1w</text>
<circle cx="431.5" cy="89.8" r="3" fill="#F98A1C"/>
<text x="439.0" y="93" font-family="Liberation Sans, sans-serif" font-size="9" fill="#d8d8d8" stroke="#d8d8d8" stroke-width="0.32" textLength="27.4" lengthAdjust="spacingAndGlyphs">1w-1m</text>
<circle cx="484.0" cy="89.8" r="3" fill="#EE6A2C"/>
<text x="491.0" y="93" font-family="Liberation Sans, sans-serif" font-size="9" fill="#3a3a3a" stroke="#3a3a3a" stroke-width="0.32" textLength="28.5" lengthAdjust="spacingAndGlyphs">1m-3m</text>
<circle cx="537.0" cy="89.8" r="3" fill="#D94A44"/>
<text x="543.7" y="93" font-family="Liberation Sans, sans-serif" font-size="9" fill="#3a3a3a" stroke="#3a3a3a" stroke-width="0.32" textLength="28.8" lengthAdjust="spacingAndGlyphs">3m-6m</text>
<circle cx="590.0" cy="89.8" r="3" fill="#BE3359"/>
<text x="596.8" y="93" font-family="Liberation Sans, sans-serif" font-size="9" fill="#3a3a3a" stroke="#3a3a3a" stroke-width="0.32" textLength="34.2" lengthAdjust="spacingAndGlyphs">6m-12m</text>
<circle cx="648.4" cy="89.8" r="3" fill="#A02A70"/>
<text x="655.5" y="93" font-family="Liberation Sans, sans-serif" font-size="9" fill="#3a3a3a" stroke="#3a3a3a" stroke-width="0.32" textLength="23.2" lengthAdjust="spacingAndGlyphs">1y-2y</text>
<circle cx="696.6" cy="89.8" r="3" fill="#7F1F82"/>
<text x="703.6" y="93" font-family="Liberation Sans, sans-serif" font-size="9" fill="#3a3a3a" stroke="#3a3a3a" stroke-width="0.32" textLength="23.2" lengthAdjust="spacingAndGlyphs">2y-3y</text>
<circle cx="744.4" cy="89.8" r="3" fill="#5C1688"/>
<text x="751.5" y="93" font-family="Liberation Sans, sans-serif" font-size="9" fill="#3a3a3a" stroke="#3a3a3a" stroke-width="0.32" textLength="23.2" lengthAdjust="spacingAndGlyphs">3y-5y</text>
<circle cx="792.6" cy="89.8" r="3" fill="#3A1078"/>
<text x="799.6" y="93" font-family="Liberation Sans, sans-serif" font-size="9" fill="#3a3a3a" stroke="#3a3a3a" stroke-width="0.32" textLength="23.2" lengthAdjust="spacingAndGlyphs">5y-7y</text>
<circle cx="840.8" cy="89.8" r="3" fill="#150B3A"/>
<text x="847.8" y="93" font-family="Liberation Sans, sans-serif" font-size="9" fill="#3a3a3a" stroke="#3a3a3a" stroke-width="0.32" textLength="28.8" lengthAdjust="spacingAndGlyphs">7y-10y</text>
<circle cx="894.6" cy="89.8" r="3" fill="#000000"/>
<text x="901.6" y="93" font-family="Liberation Sans, sans-serif" font-size="9" fill="#3a3a3a" stroke="#3a3a3a" stroke-width="0.32" textLength="20.0" lengthAdjust="spacingAndGlyphs">&gt;10y</text>
<circle cx="940.0" cy="89.8" r="3" fill="#8A8A8A"/>
<text x="946.6" y="93" font-family="Liberation Sans, sans-serif" font-size="9" fill="#3a3a3a" stroke="#3a3a3a" stroke-width="0.32" textLength="45.0" lengthAdjust="spacingAndGlyphs">Price [USD]</text>
</svg>
<div class="foot">&copy; 2022 Glassnode. All Rights Reserved.</div>
<div class="logo">glassnode</div>
</body></html>
